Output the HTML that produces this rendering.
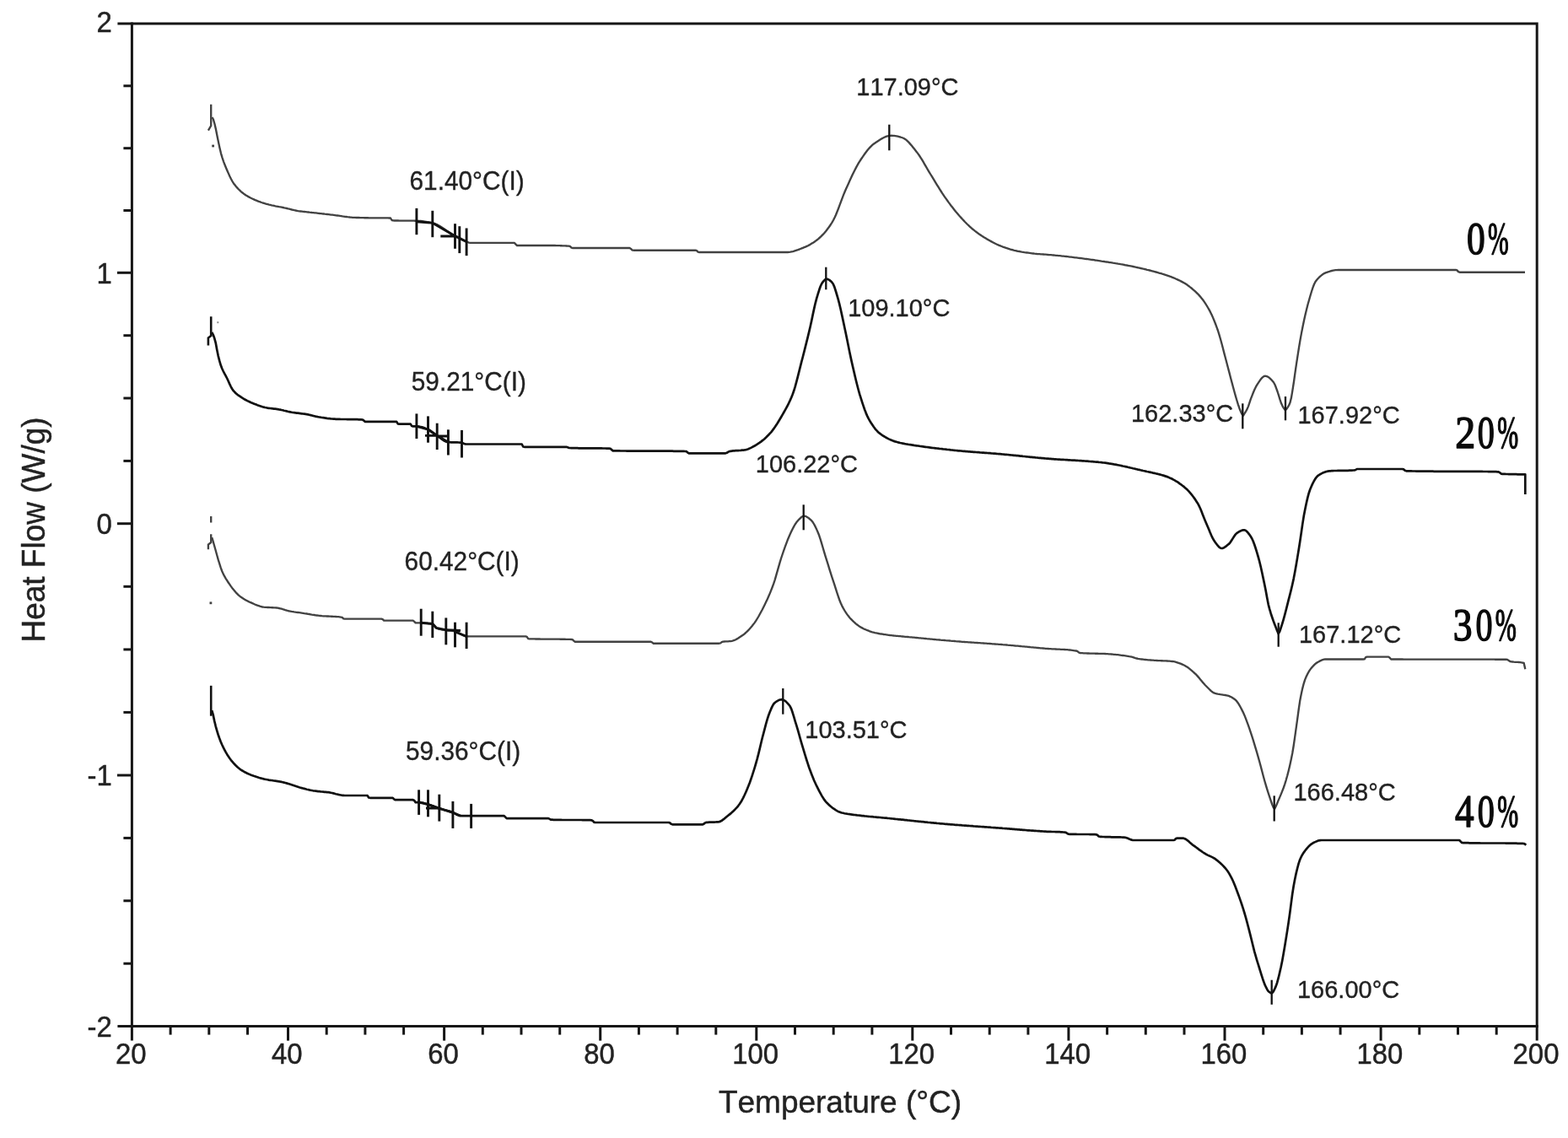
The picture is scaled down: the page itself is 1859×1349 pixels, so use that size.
<!DOCTYPE html>
<html><head><meta charset="utf-8"><title>DSC Heat Flow vs Temperature</title>
<style>html,body{margin:0;padding:0;background:#fff}svg{display:block}text{font-kerning:none}</style></head>
<body>
<svg width="1859" height="1349" viewBox="0 0 1859 1349">
<rect width="1859" height="1349" fill="#fff"/>
<g stroke="#161616" stroke-width="3" fill="none" stroke-linecap="butt">
<path d="M139.4,28.0 H1822.2 V1233.6"/>
<path d="M156.4,26.5 V1233.6"/>
<path d="M139.4,1216.6 H1823.7"/>
<path d="M146.4,101.8 H156.4"/>
<path d="M146.4,175.7 H156.4"/>
<path d="M146.4,249.5 H156.4"/>
<path d="M138.9,323.3 H156.4"/>
<path d="M146.4,397.7 H156.4"/>
<path d="M146.4,472.0 H156.4"/>
<path d="M146.4,546.4 H156.4"/>
<path d="M138.9,620.7 H156.4"/>
<path d="M146.4,695.3 H156.4"/>
<path d="M146.4,769.9 H156.4"/>
<path d="M146.4,844.4 H156.4"/>
<path d="M138.9,919.0 H156.4"/>
<path d="M146.4,993.4 H156.4"/>
<path d="M146.4,1067.8 H156.4"/>
<path d="M146.4,1142.2 H156.4"/>
<path d="M202.1,1216.6 V1226.6"/>
<path d="M247.8,1216.6 V1226.6"/>
<path d="M293.5,1216.6 V1226.6"/>
<path d="M341.5,1216.6 V1233.6"/>
<path d="M387.2,1216.6 V1226.6"/>
<path d="M432.9,1216.6 V1226.6"/>
<path d="M478.6,1216.6 V1226.6"/>
<path d="M526.6,1216.6 V1233.6"/>
<path d="M572.3,1216.6 V1226.6"/>
<path d="M618.0,1216.6 V1226.6"/>
<path d="M663.7,1216.6 V1226.6"/>
<path d="M711.7,1216.6 V1233.6"/>
<path d="M757.4,1216.6 V1226.6"/>
<path d="M803.1,1216.6 V1226.6"/>
<path d="M848.8,1216.6 V1226.6"/>
<path d="M896.8,1216.6 V1233.6"/>
<path d="M942.5,1216.6 V1226.6"/>
<path d="M988.2,1216.6 V1226.6"/>
<path d="M1033.9,1216.6 V1226.6"/>
<path d="M1081.8,1216.6 V1233.6"/>
<path d="M1127.5,1216.6 V1226.6"/>
<path d="M1173.2,1216.6 V1226.6"/>
<path d="M1218.9,1216.6 V1226.6"/>
<path d="M1266.9,1216.6 V1233.6"/>
<path d="M1312.6,1216.6 V1226.6"/>
<path d="M1358.3,1216.6 V1226.6"/>
<path d="M1404.0,1216.6 V1226.6"/>
<path d="M1452.0,1216.6 V1233.6"/>
<path d="M1497.7,1216.6 V1226.6"/>
<path d="M1543.4,1216.6 V1226.6"/>
<path d="M1589.1,1216.6 V1226.6"/>
<path d="M1637.1,1216.6 V1233.6"/>
<path d="M1682.8,1216.6 V1226.6"/>
<path d="M1728.5,1216.6 V1226.6"/>
<path d="M1774.2,1216.6 V1226.6"/>
</g>
<g font-family="'Liberation Sans', sans-serif" font-size="34.4" fill="#222" stroke="#222" stroke-width="0.45">
<text transform="translate(155.2,1260.9) scale(0.955,1)" text-anchor="middle">20</text>
<text transform="translate(340.3,1260.9) scale(0.955,1)" text-anchor="middle">40</text>
<text transform="translate(525.4,1260.9) scale(0.955,1)" text-anchor="middle">60</text>
<text transform="translate(710.5,1260.9) scale(0.955,1)" text-anchor="middle">80</text>
<text transform="translate(895.6,1260.9) scale(0.955,1)" text-anchor="middle">100</text>
<text transform="translate(1080.6,1260.9) scale(0.955,1)" text-anchor="middle">120</text>
<text transform="translate(1265.7,1260.9) scale(0.955,1)" text-anchor="middle">140</text>
<text transform="translate(1450.8,1260.9) scale(0.955,1)" text-anchor="middle">160</text>
<text transform="translate(1635.9,1260.9) scale(0.955,1)" text-anchor="middle">180</text>
<text transform="translate(1821.0,1260.9) scale(0.955,1)" text-anchor="middle">200</text>
<text transform="translate(132.8,38.0) scale(0.955,1)" text-anchor="end">2</text>
<text transform="translate(132.8,335.6) scale(0.955,1)" text-anchor="end">1</text>
<text transform="translate(132.8,633.0) scale(0.955,1)" text-anchor="end">0</text>
<text transform="translate(132.8,931.3) scale(0.955,1)" text-anchor="end">-1</text>
<text transform="translate(132.8,1228.9) scale(0.955,1)" text-anchor="end">-2</text>
</g>
<g font-family="'Liberation Sans', sans-serif" font-size="37" fill="#222" stroke="#222" stroke-width="0.45">
<text x="996" y="1318.6" text-anchor="middle">Temperature (°C)</text>
<text transform="translate(52.8,628) rotate(-90) scale(1,1.05)" text-anchor="middle">Heat Flow (W/g)</text>
</g>
<path d="M251.5,139.0 L253.0,141.8 L254.5,147.0 L256.0,153.5 L257.5,161.3 L259.0,168.6 L260.5,175.5 L262.0,181.8 L263.5,186.8 L265.0,191.3 L266.5,195.3 L268.0,199.0 L269.5,202.5 L271.0,205.9 L272.5,209.2 L274.0,212.3 L275.5,215.0 L277.0,217.4 L278.5,219.3 L280.0,221.2 L281.5,222.9 L283.0,224.5 L284.5,225.9 L286.0,227.3 L287.5,228.5 L289.0,229.7 L290.5,230.7 L292.0,231.7 L293.5,232.6 L295.0,233.4 L296.5,234.3 L298.0,235.0 L299.5,235.7 L301.0,236.4 L302.5,237.1 L304.0,237.7 L305.5,238.3 L307.0,238.9 L308.5,239.4 L310.0,240.0 L311.5,240.5 L313.0,240.9 L314.5,241.4 L316.0,241.8 L317.5,242.2 L319.0,242.6 L320.5,242.9 L322.0,243.3 L323.5,243.6 L325.0,243.9 L326.5,244.3 L328.0,244.6 L329.5,244.9 L331.0,245.2 L332.5,245.4 L334.0,245.7 L335.5,246.0 L337.0,246.4 L338.5,246.7 L340.0,247.0 L341.5,247.4 L343.0,247.7 L344.5,248.1 L346.0,248.5 L347.5,248.8 L349.0,249.2 L350.5,249.5 L352.0,249.8 L353.5,250.1 L355.0,250.3 L356.5,250.5 L358.0,250.7 L359.5,250.9 L361.0,251.0 L362.5,251.2 L364.0,251.4 L365.5,251.5 L367.0,251.7 L368.5,251.8 L370.0,252.0 L371.5,252.1 L373.0,252.3 L374.5,252.4 L376.0,252.6 L377.5,252.8 L379.0,253.0 L380.5,253.1 L382.0,253.3 L383.5,253.5 L385.0,253.7 L386.5,253.8 L388.0,254.0 L389.5,254.2 L391.0,254.4 L392.5,254.6 L394.0,254.7 L395.5,254.9 L397.0,255.1 L398.5,255.3 L400.0,255.5 L401.5,255.7 L403.0,255.9 L404.5,256.1 L406.0,256.4 L407.5,256.6 L409.0,256.8 L410.5,257.0 L412.0,257.2 L413.5,257.3 L415.0,257.5 L416.5,257.6 L418.0,257.8 L419.5,257.8 L421.0,257.9 L422.5,258.0 L424.0,258.0 L425.5,258.0 L427.0,258.1 L428.5,258.1 L430.0,258.1 L431.5,258.2 L433.0,258.2 L434.5,258.2 L436.0,258.2 L437.5,258.3 L439.0,258.3 L440.5,258.3 L442.0,258.3 L443.5,258.3 L445.0,258.3 L446.5,258.3 L448.0,258.4 L449.5,258.4 L451.0,258.4 L452.5,258.4 L454.0,258.4 L455.5,258.4 L457.0,258.4 L458.5,258.4 L460.0,258.4 L461.5,258.5 L463.0,258.5 L464.5,261.0 L466.0,261.4 L467.5,261.5 L469.0,261.5 L470.5,261.5 L472.0,261.5 L473.5,261.6 L475.0,261.6 L476.5,261.6 L478.0,261.6 L479.5,261.6 L481.0,261.6 L482.5,261.6 L484.0,261.6 L485.5,261.6 L487.0,261.6 L488.5,261.6 L490.0,261.6 L491.5,261.7 L493.0,261.7 L494.5,261.7 L496.0,261.8 L497.5,261.9 L499.0,262.0 L500.5,262.2 L502.0,262.4 L503.5,262.6 L505.0,262.8 L506.5,263.1 L508.0,263.3 L509.5,263.6 L511.0,263.9 L512.5,264.2 L514.0,264.6 L515.5,265.1 L517.0,265.7 L518.5,266.4 L520.0,267.2 L521.5,268.0 L523.0,268.9 L524.5,269.9 L526.0,270.9 L527.5,272.0 L529.0,273.0 L530.5,274.1 L532.0,275.1 L533.5,276.1 L535.0,277.1 L536.5,278.0 L538.0,278.9 L539.5,279.7 L541.0,280.5 L542.5,281.4 L544.0,282.2 L545.5,283.0 L547.0,283.8 L548.5,284.5 L550.0,285.2 L551.5,285.9 L553.0,286.5 L554.5,287.0 L556.0,287.6 L557.5,287.9 L559.0,287.9 L560.5,287.9 L562.0,287.9 L563.5,287.9 L565.0,287.9 L566.5,287.9 L568.0,287.9 L569.5,287.9 L571.0,287.9 L572.5,287.9 L574.0,287.9 L575.5,287.9 L577.0,287.9 L578.5,287.9 L580.0,287.9 L581.5,287.9 L583.0,287.9 L584.5,287.9 L586.0,287.9 L587.5,287.9 L589.0,287.9 L590.5,287.9 L592.0,287.9 L593.5,287.9 L595.0,287.9 L596.5,287.9 L598.0,287.9 L599.5,287.9 L601.0,287.9 L602.5,287.9 L604.0,287.9 L605.5,287.9 L607.0,287.9 L608.5,287.9 L610.0,287.9 L611.5,289.7 L613.0,291.0 L614.5,291.0 L616.0,291.0 L617.5,291.0 L619.0,291.0 L620.5,291.0 L622.0,291.0 L623.5,291.0 L625.0,291.0 L626.5,291.0 L628.0,291.0 L629.5,291.0 L631.0,291.0 L632.5,291.0 L634.0,291.0 L635.5,291.0 L637.0,291.0 L638.5,291.0 L640.0,291.0 L641.5,291.0 L643.0,291.0 L644.5,291.0 L646.0,291.0 L647.5,291.0 L649.0,291.0 L650.5,291.0 L652.0,291.0 L653.5,291.0 L655.0,291.0 L656.5,291.0 L658.0,291.0 L659.5,291.1 L661.0,291.1 L662.5,291.1 L664.0,291.2 L665.5,291.2 L667.0,291.3 L668.5,291.3 L670.0,291.4 L671.5,291.5 L673.0,291.6 L674.5,291.7 L676.0,292.2 L677.5,293.7 L679.0,294.0 L680.5,294.0 L682.0,294.0 L683.5,294.0 L685.0,294.0 L686.5,294.0 L688.0,294.0 L689.5,294.0 L691.0,294.0 L692.5,294.0 L694.0,294.0 L695.5,294.0 L697.0,294.0 L698.5,294.0 L700.0,294.0 L701.5,294.0 L703.0,294.0 L704.5,294.0 L706.0,294.0 L707.5,294.0 L709.0,294.0 L710.5,294.0 L712.0,294.0 L713.5,294.0 L715.0,294.0 L716.5,294.0 L718.0,294.0 L719.5,294.0 L721.0,294.0 L722.5,294.0 L724.0,294.0 L725.5,294.0 L727.0,294.0 L728.5,294.0 L730.0,294.0 L731.5,294.0 L733.0,294.0 L734.5,294.0 L736.0,294.0 L737.5,294.0 L739.0,294.0 L740.5,294.0 L742.0,294.0 L743.5,294.0 L745.0,294.0 L746.5,294.0 L748.0,294.9 L749.5,296.5 L751.0,296.7 L752.5,296.7 L754.0,296.7 L755.5,296.7 L757.0,296.7 L758.5,296.7 L760.0,296.7 L761.5,296.7 L763.0,296.7 L764.5,296.7 L766.0,296.7 L767.5,296.7 L769.0,296.7 L770.5,296.7 L772.0,296.7 L773.5,296.7 L775.0,296.7 L776.5,296.7 L778.0,296.7 L779.5,296.7 L781.0,296.7 L782.5,296.7 L784.0,296.7 L785.5,296.7 L787.0,296.7 L788.5,296.7 L790.0,296.7 L791.5,296.7 L793.0,296.7 L794.5,296.7 L796.0,296.7 L797.5,296.7 L799.0,296.7 L800.5,296.7 L802.0,296.7 L803.5,296.7 L805.0,296.7 L806.5,296.7 L808.0,296.7 L809.5,296.7 L811.0,296.7 L812.5,296.7 L814.0,296.7 L815.5,296.7 L817.0,296.7 L818.5,296.7 L820.0,296.7 L821.5,296.7 L823.0,296.7 L824.5,296.7 L826.0,297.2 L827.5,298.7 L829.0,299.0 L830.5,299.0 L832.0,299.0 L833.5,299.0 L835.0,299.0 L836.5,299.0 L838.0,299.0 L839.5,299.0 L841.0,299.0 L842.5,299.0 L844.0,299.0 L845.5,299.0 L847.0,299.0 L848.5,299.0 L850.0,299.0 L851.5,299.0 L853.0,299.0 L854.5,299.0 L856.0,299.0 L857.5,299.0 L859.0,299.0 L860.5,299.0 L862.0,299.0 L863.5,299.0 L865.0,299.0 L866.5,299.0 L868.0,299.0 L869.5,299.0 L871.0,299.0 L872.5,299.0 L874.0,299.0 L875.5,299.0 L877.0,299.0 L878.5,299.0 L880.0,299.0 L881.5,299.0 L883.0,299.0 L884.5,299.0 L886.0,299.0 L887.5,299.0 L889.0,299.0 L890.5,299.0 L892.0,299.0 L893.5,299.0 L895.0,299.0 L896.5,299.0 L898.0,299.0 L899.5,299.0 L901.0,299.0 L902.5,299.0 L904.0,299.0 L905.5,299.0 L907.0,299.0 L908.5,299.0 L910.0,299.0 L911.5,299.0 L913.0,299.0 L914.5,299.0 L916.0,299.0 L917.5,299.0 L919.0,299.0 L920.5,299.0 L922.0,299.0 L923.5,299.0 L925.0,299.0 L926.5,299.0 L928.0,299.0 L929.5,299.0 L931.0,299.0 L932.5,299.0 L934.0,299.0 L935.5,298.9 L937.0,298.7 L938.5,298.4 L940.0,298.1 L941.5,297.7 L943.0,297.2 L944.5,296.7 L946.0,296.2 L947.5,295.6 L949.0,295.0 L950.5,294.4 L952.0,293.8 L953.5,293.2 L955.0,292.6 L956.5,291.9 L958.0,291.2 L959.5,290.4 L961.0,289.5 L962.5,288.6 L964.0,287.7 L965.5,286.7 L967.0,285.6 L968.5,284.5 L970.0,283.3 L971.5,282.0 L973.0,280.7 L974.5,279.2 L976.0,277.7 L977.5,276.0 L979.0,274.2 L980.5,272.3 L982.0,270.3 L983.5,268.2 L985.0,266.0 L986.5,263.6 L988.0,261.0 L989.5,258.0 L991.0,254.7 L992.5,251.0 L994.0,247.2 L995.5,243.2 L997.0,239.1 L998.5,235.1 L1000.0,231.2 L1001.5,227.5 L1003.0,224.0 L1004.5,220.7 L1006.0,217.4 L1007.5,214.1 L1009.0,210.8 L1010.5,207.6 L1012.0,204.5 L1013.5,201.5 L1015.0,198.6 L1016.5,195.8 L1018.0,193.2 L1019.5,190.8 L1021.0,188.5 L1022.5,186.3 L1024.0,184.1 L1025.5,182.0 L1027.0,180.0 L1028.5,178.1 L1030.0,176.3 L1031.5,174.6 L1033.0,173.1 L1034.5,171.7 L1036.0,170.5 L1037.5,169.5 L1039.0,168.4 L1040.5,167.4 L1042.0,166.4 L1043.5,165.5 L1045.0,164.6 L1046.5,163.8 L1048.0,163.0 L1049.5,162.3 L1051.0,161.7 L1052.5,161.3 L1054.0,160.9 L1055.5,160.8 L1057.0,160.7 L1058.5,160.8 L1060.0,160.9 L1061.5,161.1 L1063.0,161.4 L1064.5,161.7 L1066.0,162.1 L1067.5,162.5 L1069.0,163.0 L1070.5,163.5 L1072.0,164.2 L1073.5,165.2 L1075.0,166.4 L1076.5,167.8 L1078.0,169.4 L1079.5,171.1 L1081.0,172.8 L1082.5,174.7 L1084.0,176.6 L1085.5,178.5 L1087.0,180.4 L1088.5,182.4 L1090.0,184.5 L1091.5,186.8 L1093.0,189.2 L1094.5,191.7 L1096.0,194.3 L1097.5,196.9 L1099.0,199.5 L1100.5,202.1 L1102.0,204.6 L1103.5,207.0 L1105.0,209.4 L1106.5,211.9 L1108.0,214.4 L1109.5,216.8 L1111.0,219.3 L1112.5,221.7 L1114.0,224.2 L1115.5,226.5 L1117.0,228.9 L1118.5,231.1 L1120.0,233.3 L1121.5,235.4 L1123.0,237.5 L1124.5,239.6 L1126.0,241.6 L1127.5,243.7 L1129.0,245.6 L1130.5,247.5 L1132.0,249.4 L1133.5,251.3 L1135.0,253.0 L1136.5,254.8 L1138.0,256.5 L1139.5,258.1 L1141.0,259.8 L1142.5,261.4 L1144.0,263.0 L1145.5,264.5 L1147.0,266.0 L1148.5,267.4 L1150.0,268.8 L1151.5,270.2 L1153.0,271.5 L1154.5,272.7 L1156.0,273.9 L1157.5,275.0 L1159.0,276.1 L1160.5,277.2 L1162.0,278.2 L1163.5,279.3 L1165.0,280.2 L1166.5,281.2 L1168.0,282.1 L1169.5,283.0 L1171.0,283.9 L1172.5,284.7 L1174.0,285.6 L1175.5,286.4 L1177.0,287.2 L1178.5,288.0 L1180.0,288.8 L1181.5,289.5 L1183.0,290.2 L1184.5,290.8 L1186.0,291.4 L1187.5,292.0 L1189.0,292.6 L1190.5,293.1 L1192.0,293.6 L1193.5,294.1 L1195.0,294.6 L1196.5,295.1 L1198.0,295.6 L1199.5,296.0 L1201.0,296.4 L1202.5,296.8 L1204.0,297.1 L1205.5,297.5 L1207.0,297.8 L1208.5,298.0 L1210.0,298.3 L1211.5,298.6 L1213.0,298.8 L1214.5,299.1 L1216.0,299.3 L1217.5,299.5 L1219.0,299.7 L1220.5,299.9 L1222.0,300.1 L1223.5,300.3 L1225.0,300.5 L1226.5,300.7 L1228.0,300.8 L1229.5,301.0 L1231.0,301.1 L1232.5,301.2 L1234.0,301.3 L1235.5,301.4 L1237.0,301.5 L1238.5,301.6 L1240.0,301.7 L1241.5,301.8 L1243.0,302.0 L1244.5,302.1 L1246.0,302.2 L1247.5,302.4 L1249.0,302.5 L1250.5,302.6 L1252.0,302.8 L1253.5,302.9 L1255.0,303.1 L1256.5,303.2 L1258.0,303.4 L1259.5,303.6 L1261.0,303.7 L1262.5,303.9 L1264.0,304.0 L1265.5,304.2 L1267.0,304.4 L1268.5,304.6 L1270.0,304.7 L1271.5,304.9 L1273.0,305.1 L1274.5,305.3 L1276.0,305.4 L1277.5,305.6 L1279.0,305.8 L1280.5,306.0 L1282.0,306.2 L1283.5,306.4 L1285.0,306.6 L1286.5,306.8 L1288.0,307.0 L1289.5,307.2 L1291.0,307.4 L1292.5,307.6 L1294.0,307.8 L1295.5,308.0 L1297.0,308.2 L1298.5,308.5 L1300.0,308.7 L1301.5,308.9 L1303.0,309.1 L1304.5,309.3 L1306.0,309.6 L1307.5,309.8 L1309.0,310.0 L1310.5,310.3 L1312.0,310.5 L1313.5,310.7 L1315.0,311.0 L1316.5,311.2 L1318.0,311.4 L1319.5,311.7 L1321.0,311.9 L1322.5,312.2 L1324.0,312.4 L1325.5,312.7 L1327.0,312.9 L1328.5,313.2 L1330.0,313.4 L1331.5,313.7 L1333.0,314.0 L1334.5,314.3 L1336.0,314.5 L1337.5,314.8 L1339.0,315.1 L1340.5,315.4 L1342.0,315.7 L1343.5,316.0 L1345.0,316.3 L1346.5,316.7 L1348.0,317.0 L1349.5,317.3 L1351.0,317.6 L1352.5,318.0 L1354.0,318.3 L1355.5,318.7 L1357.0,319.0 L1358.5,319.4 L1360.0,319.8 L1361.5,320.1 L1363.0,320.5 L1364.5,320.9 L1366.0,321.3 L1367.5,321.7 L1369.0,322.1 L1370.5,322.5 L1372.0,322.9 L1373.5,323.4 L1375.0,323.8 L1376.5,324.2 L1378.0,324.7 L1379.5,325.1 L1381.0,325.6 L1382.5,326.1 L1384.0,326.6 L1385.5,327.1 L1387.0,327.7 L1388.5,328.2 L1390.0,328.8 L1391.5,329.4 L1393.0,330.0 L1394.5,330.7 L1396.0,331.4 L1397.5,332.1 L1399.0,332.8 L1400.5,333.6 L1402.0,334.4 L1403.5,335.2 L1405.0,336.1 L1406.5,337.1 L1408.0,338.1 L1409.5,339.2 L1411.0,340.4 L1412.5,341.5 L1414.0,342.8 L1415.5,344.1 L1417.0,345.4 L1418.5,346.8 L1420.0,348.3 L1421.5,349.9 L1423.0,351.6 L1424.5,353.4 L1426.0,355.3 L1427.5,357.4 L1429.0,359.6 L1430.5,362.0 L1432.0,364.5 L1433.5,367.1 L1435.0,369.9 L1436.5,373.0 L1438.0,376.4 L1439.5,380.0 L1441.0,383.8 L1442.5,387.8 L1444.0,392.0 L1445.5,396.8 L1447.0,402.0 L1448.5,407.5 L1450.0,413.2 L1451.5,419.1 L1453.0,424.8 L1454.5,430.5 L1456.0,436.2 L1457.5,441.9 L1459.0,447.7 L1460.5,453.4 L1462.0,459.0 L1463.5,464.5 L1465.0,469.9 L1466.5,475.0 L1468.0,479.8 L1469.5,484.2 L1471.0,487.9 L1472.5,491.0 L1474.0,492.7 L1475.5,490.2 L1477.0,487.8 L1478.5,485.1 L1480.0,481.6 L1481.5,477.2 L1483.0,472.7 L1484.5,468.8 L1486.0,465.0 L1487.5,461.5 L1489.0,458.4 L1490.5,455.9 L1492.0,453.6 L1493.5,451.4 L1495.0,449.3 L1496.5,447.6 L1498.0,446.4 L1499.5,445.7 L1501.0,445.8 L1502.5,446.3 L1504.0,447.2 L1505.5,448.4 L1507.0,449.8 L1508.5,451.5 L1510.0,453.3 L1511.5,456.0 L1513.0,459.8 L1514.5,464.0 L1516.0,468.6 L1517.5,473.7 L1519.0,478.1 L1520.5,481.3 L1522.0,483.8 L1523.5,485.9 L1525.0,485.2 L1526.5,483.1 L1528.0,480.7 L1529.5,477.3 L1531.0,471.1 L1532.5,462.1 L1534.0,452.5 L1535.5,441.6 L1537.0,431.3 L1538.5,421.6 L1540.0,412.1 L1541.5,403.1 L1543.0,394.9 L1544.5,387.3 L1546.0,380.1 L1547.5,373.2 L1549.0,366.9 L1550.5,361.0 L1552.0,355.7 L1553.5,350.5 L1555.0,345.5 L1556.5,340.9 L1558.0,337.0 L1559.5,334.0 L1561.0,332.0 L1562.5,330.3 L1564.0,328.7 L1565.5,327.3 L1567.0,326.1 L1568.5,325.0 L1570.0,324.1 L1571.5,323.4 L1573.0,322.8 L1574.5,322.3 L1576.0,321.9 L1577.5,321.4 L1579.0,321.0 L1580.5,320.7 L1582.0,320.4 L1583.5,320.2 L1585.0,320.1 L1586.5,320.0 L1588.0,320.0 L1589.5,320.0 L1591.0,320.0 L1592.5,320.0 L1594.0,320.0 L1595.5,320.0 L1597.0,320.0 L1598.5,320.0 L1600.0,320.0 L1601.5,320.0 L1603.0,320.0 L1604.5,320.0 L1606.0,320.0 L1607.5,320.0 L1609.0,320.0 L1610.5,320.0 L1612.0,320.0 L1613.5,320.0 L1615.0,320.0 L1616.5,320.0 L1618.0,320.0 L1619.5,320.0 L1621.0,320.0 L1622.5,320.0 L1624.0,320.0 L1625.5,320.0 L1627.0,320.0 L1628.5,320.0 L1630.0,320.0 L1631.5,320.0 L1633.0,320.0 L1634.5,320.0 L1636.0,320.0 L1637.5,320.0 L1639.0,320.0 L1640.5,320.0 L1642.0,320.0 L1643.5,320.0 L1645.0,320.0 L1646.5,320.0 L1648.0,320.0 L1649.5,320.0 L1651.0,320.0 L1652.5,320.0 L1654.0,320.0 L1655.5,320.0 L1657.0,320.0 L1658.5,320.0 L1660.0,320.0 L1661.5,320.0 L1663.0,320.0 L1664.5,320.0 L1666.0,320.0 L1667.5,320.0 L1669.0,320.0 L1670.5,320.0 L1672.0,320.0 L1673.5,320.0 L1675.0,320.0 L1676.5,320.0 L1678.0,320.0 L1679.5,320.0 L1681.0,320.0 L1682.5,320.0 L1684.0,320.0 L1685.5,320.0 L1687.0,320.0 L1688.5,320.0 L1690.0,320.0 L1691.5,320.0 L1693.0,320.0 L1694.5,320.0 L1696.0,320.0 L1697.5,320.0 L1699.0,320.0 L1700.5,320.0 L1702.0,320.0 L1703.5,320.0 L1705.0,320.0 L1706.5,320.0 L1708.0,320.0 L1709.5,320.0 L1711.0,320.0 L1712.5,320.0 L1714.0,320.0 L1715.5,320.0 L1717.0,320.0 L1718.5,320.0 L1720.0,320.0 L1721.5,320.0 L1723.0,320.0 L1724.5,320.0 L1726.0,320.0 L1727.5,320.4 L1729.0,322.1 L1730.5,322.7 L1732.0,322.7 L1733.5,322.7 L1735.0,322.7 L1736.5,322.7 L1738.0,322.7 L1739.5,322.7 L1741.0,322.7 L1742.5,322.7 L1744.0,322.7 L1745.5,322.7 L1747.0,322.7 L1748.5,322.7 L1750.0,322.7 L1751.5,322.7 L1753.0,322.7 L1754.5,322.7 L1756.0,322.7 L1757.5,322.7 L1759.0,322.7 L1760.5,322.7 L1762.0,322.7 L1763.5,322.7 L1765.0,322.7 L1766.5,322.7 L1768.0,322.7 L1769.5,322.7 L1771.0,322.7 L1772.5,322.7 L1774.0,322.7 L1775.5,322.7 L1777.0,322.7 L1778.5,322.7 L1780.0,322.7 L1781.5,322.7 L1783.0,322.7 L1784.5,322.7 L1786.0,322.7 L1787.5,322.7 L1789.0,322.7 L1790.5,322.7 L1792.0,322.7 L1793.5,322.7 L1795.0,322.7 L1796.5,322.7 L1798.0,322.7 L1799.5,322.7 L1801.0,322.7 L1802.5,322.7 L1804.0,322.7 L1805.5,322.7 L1807.0,322.7 L1808.0,322.7" fill="none" stroke="#424242" stroke-width="2.35" stroke-linejoin="round"/>
<path d="M251.2,394.0 L252.7,396.8 L254.2,400.8 L255.7,406.3 L257.2,414.5 L258.7,421.8 L260.2,427.7 L261.7,432.8 L263.2,436.8 L264.7,440.0 L266.2,442.9 L267.7,445.6 L269.2,448.5 L270.7,451.7 L272.2,455.1 L273.7,458.3 L275.2,461.0 L276.7,463.1 L278.2,464.7 L279.7,466.2 L281.2,467.5 L282.7,468.7 L284.2,469.7 L285.7,470.7 L287.2,471.7 L288.7,472.6 L290.2,473.5 L291.7,474.3 L293.2,475.1 L294.7,475.8 L296.2,476.5 L297.7,477.2 L299.2,477.8 L300.7,478.4 L302.2,479.0 L303.7,479.6 L305.2,480.2 L306.7,480.7 L308.2,481.2 L309.7,481.7 L311.2,482.2 L312.7,482.6 L314.2,483.0 L315.7,483.3 L317.2,483.6 L318.7,483.8 L320.2,484.0 L321.7,484.2 L323.2,484.4 L324.7,484.6 L326.2,484.7 L327.7,484.9 L329.2,485.1 L330.7,485.4 L332.2,485.6 L333.7,486.0 L335.2,486.3 L336.7,486.7 L338.2,487.0 L339.7,487.4 L341.2,487.8 L342.7,488.1 L344.2,488.4 L345.7,488.7 L347.2,489.0 L348.7,489.2 L350.2,489.4 L351.7,489.6 L353.2,489.7 L354.7,489.9 L356.2,490.1 L357.7,490.3 L359.2,490.5 L360.7,490.7 L362.2,490.9 L363.7,491.1 L365.2,491.4 L366.7,491.7 L368.2,492.1 L369.7,492.5 L371.2,492.9 L372.7,493.2 L374.2,493.6 L375.7,493.9 L377.2,494.2 L378.7,494.5 L380.2,494.7 L381.7,495.0 L383.2,495.2 L384.7,495.4 L386.2,495.6 L387.7,495.9 L389.2,496.1 L390.7,496.2 L392.2,496.4 L393.7,496.5 L395.2,496.7 L396.7,496.7 L398.2,496.8 L399.7,496.9 L401.2,496.9 L402.7,496.9 L404.2,497.0 L405.7,497.0 L407.2,497.0 L408.7,497.0 L410.2,497.0 L411.7,497.1 L413.2,497.1 L414.7,497.1 L416.2,497.1 L417.7,497.1 L419.2,497.1 L420.7,497.2 L422.2,497.2 L423.7,497.2 L425.2,497.3 L426.7,497.3 L428.2,497.4 L429.7,497.5 L431.2,498.4 L432.7,499.8 L434.2,499.9 L435.7,499.9 L437.2,499.9 L438.7,499.9 L440.2,499.9 L441.7,499.9 L443.2,499.9 L444.7,499.9 L446.2,499.9 L447.7,499.9 L449.2,499.9 L450.7,499.9 L452.2,499.9 L453.7,499.9 L455.2,499.9 L456.7,499.9 L458.2,499.9 L459.7,499.9 L461.2,499.9 L462.7,499.9 L464.2,499.9 L465.7,499.9 L467.2,499.9 L468.7,499.9 L470.2,499.9 L471.7,502.4 L473.2,502.6 L474.7,502.6 L476.2,502.6 L477.7,502.6 L479.2,502.6 L480.7,502.6 L482.2,502.6 L483.7,502.6 L485.2,502.6 L486.7,502.6 L488.2,505.0 L489.7,505.4 L491.2,505.4 L492.7,505.4 L494.2,505.4 L495.7,505.5 L497.2,505.7 L498.7,506.0 L500.2,506.4 L501.7,506.9 L503.2,507.4 L504.7,508.0 L506.2,508.5 L507.7,509.1 L509.2,509.9 L510.7,510.9 L512.2,512.0 L513.7,513.1 L515.2,514.3 L516.7,515.4 L518.2,516.4 L519.7,517.4 L521.2,518.5 L522.7,519.7 L524.2,520.8 L525.7,521.8 L527.2,522.8 L528.7,523.5 L530.2,524.0 L531.7,524.1 L533.2,524.2 L534.7,524.3 L536.2,524.3 L537.7,524.4 L539.2,524.4 L540.7,524.4 L542.2,524.4 L543.7,524.5 L545.2,524.6 L546.7,524.7 L548.2,525.0 L549.7,525.7 L551.2,526.4 L552.7,526.5 L554.2,526.5 L555.7,526.5 L557.2,526.5 L558.7,526.5 L560.2,526.5 L561.7,526.5 L563.2,526.5 L564.7,526.5 L566.2,526.5 L567.7,526.5 L569.2,526.5 L570.7,526.5 L572.2,526.5 L573.7,526.5 L575.2,526.5 L576.7,526.5 L578.2,526.5 L579.7,526.5 L581.2,526.5 L582.7,526.5 L584.2,526.5 L585.7,526.5 L587.2,526.5 L588.7,526.5 L590.2,526.5 L591.7,526.5 L593.2,526.5 L594.7,526.5 L596.2,526.5 L597.7,526.5 L599.2,526.5 L600.7,526.5 L602.2,526.5 L603.7,526.5 L605.2,526.5 L606.7,526.5 L608.2,526.5 L609.7,526.5 L611.2,526.5 L612.7,526.5 L614.2,526.5 L615.7,526.5 L617.2,526.5 L618.7,526.5 L620.2,529.5 L621.7,529.8 L623.2,529.8 L624.7,529.8 L626.2,529.8 L627.7,529.8 L629.2,529.8 L630.7,529.8 L632.2,529.8 L633.7,529.8 L635.2,529.8 L636.7,529.8 L638.2,529.8 L639.7,529.8 L641.2,529.8 L642.7,529.8 L644.2,529.8 L645.7,529.8 L647.2,529.8 L648.7,529.8 L650.2,529.8 L651.7,529.8 L653.2,529.8 L654.7,529.8 L656.2,529.8 L657.7,529.8 L659.2,529.8 L660.7,529.8 L662.2,529.8 L663.7,529.8 L665.2,529.8 L666.7,529.8 L668.2,529.8 L669.7,529.8 L671.2,529.8 L672.7,530.1 L674.2,530.8 L675.7,531.0 L677.2,531.1 L678.7,531.1 L680.2,531.2 L681.7,531.2 L683.2,531.2 L684.7,531.2 L686.2,531.3 L687.7,531.3 L689.2,531.3 L690.7,531.3 L692.2,531.3 L693.7,531.3 L695.2,531.3 L696.7,531.3 L698.2,531.3 L699.7,531.3 L701.2,531.3 L702.7,531.4 L704.2,531.4 L705.7,531.4 L707.2,531.4 L708.7,531.4 L710.2,531.4 L711.7,531.4 L713.2,531.4 L714.7,531.5 L716.2,531.5 L717.7,531.5 L719.2,531.6 L720.7,531.6 L722.2,531.7 L723.7,531.8 L725.2,533.2 L726.7,534.3 L728.2,534.3 L729.7,534.4 L731.2,534.4 L732.7,534.4 L734.2,534.4 L735.7,534.5 L737.2,534.5 L738.7,534.5 L740.2,534.5 L741.7,534.5 L743.2,534.6 L744.7,534.6 L746.2,534.6 L747.7,534.6 L749.2,534.6 L750.7,534.6 L752.2,534.6 L753.7,534.6 L755.2,534.6 L756.7,534.6 L758.2,534.6 L759.7,534.6 L761.2,534.6 L762.7,534.6 L764.2,534.6 L765.7,534.6 L767.2,534.6 L768.7,534.6 L770.2,534.7 L771.7,534.7 L773.2,534.7 L774.7,534.7 L776.2,534.7 L777.7,534.7 L779.2,534.7 L780.7,534.7 L782.2,534.7 L783.7,534.7 L785.2,534.7 L786.7,534.7 L788.2,534.7 L789.7,534.7 L791.2,534.7 L792.7,534.7 L794.2,534.7 L795.7,534.7 L797.2,534.7 L798.7,534.8 L800.2,534.8 L801.7,534.8 L803.2,534.8 L804.7,534.8 L806.2,534.9 L807.7,534.9 L809.2,534.9 L810.7,534.9 L812.2,535.0 L813.7,535.1 L815.2,536.4 L816.7,537.3 L818.2,537.3 L819.7,537.3 L821.2,537.3 L822.7,537.3 L824.2,537.3 L825.7,537.3 L827.2,537.3 L828.7,537.3 L830.2,537.3 L831.7,537.3 L833.2,537.3 L834.7,537.3 L836.2,537.3 L837.7,537.3 L839.2,537.3 L840.7,537.3 L842.2,537.3 L843.7,537.3 L845.2,537.3 L846.7,537.3 L848.2,537.3 L849.7,537.3 L851.2,537.3 L852.7,537.3 L854.2,537.3 L855.7,537.3 L857.2,537.3 L858.7,537.3 L860.2,537.3 L861.7,536.8 L863.2,535.8 L864.7,535.1 L866.2,534.8 L867.7,534.6 L869.2,534.4 L870.7,534.3 L872.2,534.2 L873.7,534.1 L875.2,534.1 L876.7,534.0 L878.2,533.9 L879.7,533.7 L881.2,533.6 L882.7,533.4 L884.2,533.1 L885.7,532.7 L887.2,532.2 L888.7,531.6 L890.2,530.9 L891.7,530.1 L893.2,529.3 L894.7,528.5 L896.2,527.6 L897.7,526.7 L899.2,525.7 L900.7,524.7 L902.2,523.6 L903.7,522.4 L905.2,521.2 L906.7,519.9 L908.2,518.5 L909.7,517.0 L911.2,515.5 L912.7,513.9 L914.2,512.3 L915.7,510.4 L917.2,508.4 L918.7,506.3 L920.2,504.0 L921.7,501.7 L923.2,499.2 L924.7,496.7 L926.2,494.2 L927.7,491.6 L929.2,489.0 L930.7,486.4 L932.2,483.7 L933.7,480.8 L935.2,477.8 L936.7,474.6 L938.2,471.2 L939.7,467.5 L941.2,463.3 L942.7,458.4 L944.2,452.9 L945.7,447.1 L947.2,441.1 L948.7,435.1 L950.2,429.2 L951.7,423.5 L953.2,417.6 L954.7,411.7 L956.2,405.7 L957.7,399.6 L959.2,393.4 L960.7,387.0 L962.2,380.1 L963.7,372.9 L965.2,365.9 L966.7,359.3 L968.2,353.6 L969.7,348.6 L971.2,343.8 L972.7,339.5 L974.2,336.2 L975.7,334.1 L977.2,332.4 L978.7,331.1 L980.2,330.7 L981.7,331.1 L983.2,331.9 L984.7,333.1 L986.2,334.5 L987.7,336.5 L989.2,339.9 L990.7,344.5 L992.2,349.5 L993.7,354.7 L995.2,360.4 L996.7,366.8 L998.2,373.6 L999.7,380.6 L1001.2,387.7 L1002.7,394.7 L1004.2,402.0 L1005.7,409.5 L1007.2,416.9 L1008.7,424.1 L1010.2,430.9 L1011.7,437.4 L1013.2,443.9 L1014.7,450.2 L1016.2,456.3 L1017.7,462.0 L1019.2,467.4 L1020.7,472.2 L1022.2,476.9 L1023.7,481.4 L1025.2,485.7 L1026.7,489.6 L1028.2,493.1 L1029.7,496.2 L1031.2,498.8 L1032.7,501.3 L1034.2,503.6 L1035.7,505.8 L1037.2,507.8 L1038.7,509.6 L1040.2,511.2 L1041.7,512.7 L1043.2,513.9 L1044.7,515.0 L1046.2,516.1 L1047.7,517.0 L1049.2,517.9 L1050.7,518.8 L1052.2,519.6 L1053.7,520.4 L1055.2,521.1 L1056.7,521.7 L1058.2,522.3 L1059.7,522.9 L1061.2,523.4 L1062.7,523.8 L1064.2,524.2 L1065.7,524.6 L1067.2,525.0 L1068.7,525.3 L1070.2,525.6 L1071.7,525.9 L1073.2,526.2 L1074.7,526.5 L1076.2,526.7 L1077.7,527.0 L1079.2,527.2 L1080.7,527.4 L1082.2,527.6 L1083.7,527.9 L1085.2,528.1 L1086.7,528.3 L1088.2,528.5 L1089.7,528.7 L1091.2,529.0 L1092.7,529.2 L1094.2,529.4 L1095.7,529.6 L1097.2,529.8 L1098.7,530.0 L1100.2,530.2 L1101.7,530.4 L1103.2,530.6 L1104.7,530.8 L1106.2,531.0 L1107.7,531.1 L1109.2,531.3 L1110.7,531.5 L1112.2,531.7 L1113.7,531.9 L1115.2,532.0 L1116.7,532.2 L1118.2,532.4 L1119.7,532.5 L1121.2,532.7 L1122.7,532.9 L1124.2,533.0 L1125.7,533.2 L1127.2,533.4 L1128.7,533.5 L1130.2,533.7 L1131.7,533.8 L1133.2,534.0 L1134.7,534.1 L1136.2,534.3 L1137.7,534.4 L1139.2,534.5 L1140.7,534.7 L1142.2,534.8 L1143.7,534.9 L1145.2,535.1 L1146.7,535.2 L1148.2,535.3 L1149.7,535.4 L1151.2,535.6 L1152.7,535.7 L1154.2,535.8 L1155.7,535.9 L1157.2,536.0 L1158.7,536.1 L1160.2,536.2 L1161.7,536.4 L1163.2,536.5 L1164.7,536.6 L1166.2,536.7 L1167.7,536.8 L1169.2,536.9 L1170.7,537.0 L1172.2,537.1 L1173.7,537.2 L1175.2,537.4 L1176.7,537.5 L1178.2,537.6 L1179.7,537.7 L1181.2,537.8 L1182.7,538.0 L1184.2,538.1 L1185.7,538.2 L1187.2,538.3 L1188.7,538.5 L1190.2,538.6 L1191.7,538.8 L1193.2,538.9 L1194.7,539.0 L1196.2,539.2 L1197.7,539.3 L1199.2,539.5 L1200.7,539.6 L1202.2,539.8 L1203.7,539.9 L1205.2,540.1 L1206.7,540.2 L1208.2,540.4 L1209.7,540.6 L1211.2,540.7 L1212.7,540.9 L1214.2,541.0 L1215.7,541.2 L1217.2,541.3 L1218.7,541.5 L1220.2,541.6 L1221.7,541.8 L1223.2,541.9 L1224.7,542.1 L1226.2,542.2 L1227.7,542.4 L1229.2,542.5 L1230.7,542.7 L1232.2,542.8 L1233.7,542.9 L1235.2,543.1 L1236.7,543.2 L1238.2,543.3 L1239.7,543.5 L1241.2,543.6 L1242.7,543.7 L1244.2,543.8 L1245.7,543.9 L1247.2,544.1 L1248.7,544.2 L1250.2,544.3 L1251.7,544.4 L1253.2,544.5 L1254.7,544.6 L1256.2,544.7 L1257.7,544.8 L1259.2,544.8 L1260.7,544.9 L1262.2,545.0 L1263.7,545.1 L1265.2,545.2 L1266.7,545.3 L1268.2,545.4 L1269.7,545.5 L1271.2,545.6 L1272.7,545.7 L1274.2,545.7 L1275.7,545.8 L1277.2,545.9 L1278.7,546.0 L1280.2,546.1 L1281.7,546.2 L1283.2,546.3 L1284.7,546.4 L1286.2,546.5 L1287.7,546.6 L1289.2,546.7 L1290.7,546.8 L1292.2,547.0 L1293.7,547.1 L1295.2,547.2 L1296.7,547.3 L1298.2,547.5 L1299.7,547.6 L1301.2,547.7 L1302.7,547.9 L1304.2,548.0 L1305.7,548.2 L1307.2,548.4 L1308.7,548.5 L1310.2,548.7 L1311.7,548.9 L1313.2,549.1 L1314.7,549.4 L1316.2,549.6 L1317.7,549.8 L1319.2,550.1 L1320.7,550.4 L1322.2,550.6 L1323.7,550.9 L1325.2,551.2 L1326.7,551.5 L1328.2,551.8 L1329.7,552.1 L1331.2,552.5 L1332.7,552.8 L1334.2,553.1 L1335.7,553.4 L1337.2,553.8 L1338.7,554.1 L1340.2,554.5 L1341.7,554.8 L1343.2,555.2 L1344.7,555.5 L1346.2,555.9 L1347.7,556.2 L1349.2,556.6 L1350.7,556.9 L1352.2,557.3 L1353.7,557.6 L1355.2,558.0 L1356.7,558.3 L1358.2,558.6 L1359.7,559.0 L1361.2,559.3 L1362.7,559.6 L1364.2,559.9 L1365.7,560.2 L1367.2,560.6 L1368.7,560.9 L1370.2,561.3 L1371.7,561.6 L1373.2,562.0 L1374.7,562.4 L1376.2,562.8 L1377.7,563.2 L1379.2,563.6 L1380.7,564.1 L1382.2,564.6 L1383.7,565.1 L1385.2,565.7 L1386.7,566.4 L1388.2,567.0 L1389.7,567.8 L1391.2,568.6 L1392.7,569.4 L1394.2,570.3 L1395.7,571.2 L1397.2,572.2 L1398.7,573.3 L1400.2,574.3 L1401.7,575.5 L1403.2,576.6 L1404.7,577.9 L1406.2,579.2 L1407.7,580.6 L1409.2,582.2 L1410.7,583.9 L1412.2,585.6 L1413.7,587.5 L1415.2,589.5 L1416.7,591.6 L1418.2,593.9 L1419.7,596.2 L1421.2,598.9 L1422.7,602.0 L1424.2,605.6 L1425.7,609.4 L1427.2,613.2 L1428.7,616.9 L1430.2,620.5 L1431.7,624.0 L1433.2,627.6 L1434.7,631.3 L1436.2,634.7 L1437.7,637.9 L1439.2,640.5 L1440.7,642.7 L1442.2,644.7 L1443.7,646.7 L1445.2,648.4 L1446.7,649.5 L1448.2,650.0 L1449.7,649.8 L1451.2,649.2 L1452.7,648.2 L1454.2,647.1 L1455.7,645.8 L1457.2,644.6 L1458.7,642.8 L1460.2,640.5 L1461.7,638.1 L1463.2,635.7 L1464.7,633.6 L1466.2,632.1 L1467.7,631.1 L1469.2,630.2 L1470.7,629.4 L1472.2,628.8 L1473.7,628.4 L1475.2,628.3 L1476.7,628.8 L1478.2,630.0 L1479.7,631.6 L1481.2,633.6 L1482.7,635.8 L1484.2,638.2 L1485.7,641.5 L1487.2,645.5 L1488.7,650.0 L1490.2,654.9 L1491.7,660.0 L1493.2,665.5 L1494.7,671.8 L1496.2,678.5 L1497.7,685.6 L1499.2,692.8 L1500.7,700.3 L1502.2,708.6 L1503.7,716.3 L1505.2,722.2 L1506.7,727.2 L1508.2,731.7 L1509.7,736.0 L1511.2,739.9 L1512.7,743.9 L1514.2,747.8 L1515.7,751.1 L1517.2,748.5 L1518.7,744.0 L1520.2,739.4 L1521.7,734.3 L1523.2,728.9 L1524.7,723.1 L1526.2,717.2 L1527.7,711.2 L1529.2,705.4 L1530.7,699.4 L1532.2,693.0 L1533.7,686.1 L1535.2,678.2 L1536.7,669.8 L1538.2,660.9 L1539.7,651.8 L1541.2,642.3 L1542.7,632.0 L1544.2,621.6 L1545.7,612.1 L1547.2,604.2 L1548.7,597.0 L1550.2,590.4 L1551.7,584.7 L1553.2,580.2 L1554.7,576.7 L1556.2,573.4 L1557.7,570.5 L1559.2,567.9 L1560.7,565.8 L1562.2,564.1 L1563.7,563.1 L1565.2,562.2 L1566.7,561.4 L1568.2,560.6 L1569.7,560.0 L1571.2,559.4 L1572.7,559.0 L1574.2,558.6 L1575.7,558.4 L1577.2,558.3 L1578.7,558.2 L1580.2,558.1 L1581.7,558.0 L1583.2,558.0 L1584.7,558.0 L1586.2,557.9 L1587.7,557.9 L1589.2,557.9 L1590.7,557.9 L1592.2,557.9 L1593.7,557.9 L1595.2,557.8 L1596.7,557.8 L1598.2,557.8 L1599.7,557.7 L1601.2,557.7 L1602.7,557.6 L1604.2,557.5 L1605.7,557.4 L1607.2,557.0 L1608.7,556.0 L1610.2,556.0 L1611.7,556.0 L1613.2,556.0 L1614.7,556.0 L1616.2,556.0 L1617.7,556.0 L1619.2,556.0 L1620.7,556.0 L1622.2,556.0 L1623.7,556.0 L1625.2,556.0 L1626.7,556.0 L1628.2,556.0 L1629.7,556.0 L1631.2,556.0 L1632.7,556.0 L1634.2,556.0 L1635.7,556.0 L1637.2,556.0 L1638.7,556.0 L1640.2,556.0 L1641.7,556.0 L1643.2,556.0 L1644.7,556.0 L1646.2,556.0 L1647.7,556.0 L1649.2,556.0 L1650.7,556.0 L1652.2,556.0 L1653.7,556.0 L1655.2,556.0 L1656.7,556.0 L1658.2,556.0 L1659.7,556.0 L1661.2,556.0 L1662.7,556.0 L1664.2,556.4 L1665.7,557.8 L1667.2,558.3 L1668.7,558.3 L1670.2,558.4 L1671.7,558.4 L1673.2,558.4 L1674.7,558.5 L1676.2,558.5 L1677.7,558.5 L1679.2,558.6 L1680.7,558.6 L1682.2,558.6 L1683.7,558.6 L1685.2,558.6 L1686.7,558.7 L1688.2,558.7 L1689.7,558.7 L1691.2,558.7 L1692.7,558.7 L1694.2,558.7 L1695.7,558.7 L1697.2,558.7 L1698.7,558.7 L1700.2,558.8 L1701.7,558.8 L1703.2,558.8 L1704.7,558.8 L1706.2,558.8 L1707.7,558.8 L1709.2,558.8 L1710.7,558.8 L1712.2,558.8 L1713.7,558.8 L1715.2,558.8 L1716.7,558.8 L1718.2,558.8 L1719.7,558.8 L1721.2,558.8 L1722.7,558.8 L1724.2,558.8 L1725.7,558.8 L1727.2,558.8 L1728.7,558.8 L1730.2,558.8 L1731.7,558.8 L1733.2,558.8 L1734.7,558.8 L1736.2,558.8 L1737.7,558.8 L1739.2,558.8 L1740.7,558.8 L1742.2,558.8 L1743.7,558.8 L1745.2,558.9 L1746.7,558.9 L1748.2,558.9 L1749.7,558.9 L1751.2,558.9 L1752.7,558.9 L1754.2,558.9 L1755.7,558.9 L1757.2,558.9 L1758.7,559.0 L1760.2,559.0 L1761.7,559.0 L1763.2,559.0 L1764.7,559.1 L1766.2,559.1 L1767.7,559.1 L1769.2,559.1 L1770.7,559.2 L1772.2,559.2 L1773.7,559.2 L1775.2,559.3 L1776.7,559.3 L1778.2,560.3 L1779.7,561.6 L1781.2,561.8 L1782.7,561.8 L1784.2,561.9 L1785.7,562.0 L1787.2,562.0 L1788.7,562.1 L1790.2,562.1 L1791.7,562.1 L1793.2,562.2 L1794.7,562.2 L1796.2,562.2 L1797.7,562.2 L1799.2,562.3 L1800.7,562.3 L1802.2,562.3 L1803.7,562.3 L1805.2,562.3 L1806.7,562.3 L1808.2,562.3 L1808.3,562.3 L1808.3,586" fill="none" stroke="#111" stroke-width="2.7" stroke-linejoin="round"/>
<path d="M251.2,637.0 L252.7,641.9 L254.2,647.2 L255.7,652.5 L257.2,658.0 L258.7,663.4 L260.2,668.2 L261.7,672.9 L263.2,677.0 L264.7,680.4 L266.2,683.2 L267.7,685.8 L269.2,688.2 L270.7,690.5 L272.2,692.7 L273.7,694.9 L275.2,696.9 L276.7,698.8 L278.2,700.6 L279.7,702.3 L281.2,703.8 L282.7,705.3 L284.2,706.6 L285.7,707.8 L287.2,708.8 L288.7,709.8 L290.2,710.7 L291.7,711.6 L293.2,712.3 L294.7,713.1 L296.2,713.8 L297.7,714.4 L299.2,715.1 L300.7,715.8 L302.2,716.5 L303.7,717.1 L305.2,717.7 L306.7,718.2 L308.2,718.7 L309.7,719.1 L311.2,719.5 L312.7,719.7 L314.2,719.8 L315.7,719.9 L317.2,720.0 L318.7,720.0 L320.2,720.1 L321.7,720.2 L323.2,720.2 L324.7,720.3 L326.2,720.4 L327.7,720.5 L329.2,720.7 L330.7,721.0 L332.2,721.3 L333.7,721.7 L335.2,722.2 L336.7,722.6 L338.2,723.1 L339.7,723.5 L341.2,724.0 L342.7,724.3 L344.2,724.6 L345.7,724.9 L347.2,725.1 L348.7,725.4 L350.2,725.6 L351.7,725.8 L353.2,726.0 L354.7,726.2 L356.2,726.4 L357.7,726.6 L359.2,726.8 L360.7,727.1 L362.2,727.3 L363.7,727.5 L365.2,727.8 L366.7,728.0 L368.2,728.3 L369.7,728.6 L371.2,728.8 L372.7,729.0 L374.2,729.3 L375.7,729.5 L377.2,729.7 L378.7,729.9 L380.2,730.0 L381.7,730.2 L383.2,730.3 L384.7,730.4 L386.2,730.4 L387.7,730.5 L389.2,730.5 L390.7,730.6 L392.2,730.7 L393.7,730.7 L395.2,730.8 L396.7,730.9 L398.2,731.0 L399.7,731.1 L401.2,731.2 L402.7,731.4 L404.2,731.6 L405.7,731.8 L407.2,733.3 L408.7,733.6 L410.2,733.6 L411.7,733.6 L413.2,733.6 L414.7,733.6 L416.2,733.6 L417.7,733.6 L419.2,733.6 L420.7,733.6 L422.2,733.6 L423.7,733.6 L425.2,733.6 L426.7,733.6 L428.2,733.6 L429.7,733.6 L431.2,733.6 L432.7,733.6 L434.2,733.6 L435.7,733.6 L437.2,733.6 L438.7,733.6 L440.2,733.6 L441.7,733.6 L443.2,733.6 L444.7,733.6 L446.2,733.6 L447.7,733.6 L449.2,733.6 L450.7,733.6 L452.2,733.6 L453.7,734.1 L455.2,735.6 L456.7,735.6 L458.2,735.6 L459.7,735.6 L461.2,735.6 L462.7,735.6 L464.2,735.6 L465.7,735.6 L467.2,735.6 L468.7,735.6 L470.2,735.6 L471.7,735.6 L473.2,735.6 L474.7,735.6 L476.2,735.6 L477.7,735.6 L479.2,735.6 L480.7,735.6 L482.2,735.6 L483.7,735.6 L485.2,735.6 L486.7,735.6 L488.2,735.6 L489.7,735.6 L491.2,736.8 L492.7,738.3 L494.2,738.3 L495.7,738.3 L497.2,738.3 L498.7,738.3 L500.2,738.3 L501.7,738.4 L503.2,738.4 L504.7,738.6 L506.2,738.7 L507.7,739.0 L509.2,739.2 L510.7,739.5 L512.2,739.9 L513.7,740.5 L515.2,742.3 L516.7,744.2 L518.2,745.0 L519.7,745.5 L521.2,745.9 L522.7,746.2 L524.2,746.5 L525.7,746.7 L527.2,746.9 L528.7,747.1 L530.2,747.3 L531.7,747.5 L533.2,747.6 L534.7,747.7 L536.2,747.9 L537.7,748.0 L539.2,748.3 L540.7,748.6 L542.2,749.2 L543.7,750.0 L545.2,750.9 L546.7,751.8 L548.2,752.7 L549.7,753.5 L551.2,754.0 L552.7,754.3 L554.2,754.3 L555.7,754.3 L557.2,754.3 L558.7,754.3 L560.2,754.3 L561.7,754.3 L563.2,754.3 L564.7,754.3 L566.2,754.3 L567.7,754.3 L569.2,754.3 L570.7,754.3 L572.2,754.3 L573.7,754.3 L575.2,754.3 L576.7,754.3 L578.2,754.3 L579.7,754.3 L581.2,754.3 L582.7,754.3 L584.2,754.3 L585.7,754.3 L587.2,754.3 L588.7,754.3 L590.2,754.3 L591.7,754.3 L593.2,754.3 L594.7,754.3 L596.2,754.3 L597.7,754.3 L599.2,754.3 L600.7,754.3 L602.2,754.3 L603.7,754.3 L605.2,754.3 L606.7,754.3 L608.2,754.3 L609.7,754.3 L611.2,754.3 L612.7,754.3 L614.2,754.3 L615.7,754.3 L617.2,754.3 L618.7,754.3 L620.2,754.3 L621.7,754.3 L623.2,754.3 L624.7,754.8 L626.2,757.1 L627.7,757.3 L629.2,757.3 L630.7,757.4 L632.2,757.4 L633.7,757.4 L635.2,757.5 L636.7,757.5 L638.2,757.5 L639.7,757.5 L641.2,757.6 L642.7,757.6 L644.2,757.6 L645.7,757.6 L647.2,757.6 L648.7,757.6 L650.2,757.6 L651.7,757.6 L653.2,757.6 L654.7,757.6 L656.2,757.6 L657.7,757.6 L659.2,757.6 L660.7,757.6 L662.2,757.6 L663.7,757.7 L665.2,757.7 L666.7,757.7 L668.2,757.7 L669.7,757.7 L671.2,757.8 L672.7,757.8 L674.2,757.9 L675.7,757.9 L677.2,758.0 L678.7,758.1 L680.2,759.6 L681.7,760.7 L683.2,760.7 L684.7,760.7 L686.2,760.7 L687.7,760.7 L689.2,760.7 L690.7,760.7 L692.2,760.7 L693.7,760.7 L695.2,760.7 L696.7,760.7 L698.2,760.7 L699.7,760.7 L701.2,760.7 L702.7,760.7 L704.2,760.7 L705.7,760.7 L707.2,760.7 L708.7,760.7 L710.2,760.7 L711.7,760.7 L713.2,760.7 L714.7,760.7 L716.2,760.7 L717.7,760.7 L719.2,760.7 L720.7,760.7 L722.2,760.7 L723.7,760.7 L725.2,760.7 L726.7,760.7 L728.2,760.7 L729.7,760.7 L731.2,760.7 L732.7,760.7 L734.2,760.7 L735.7,760.7 L737.2,760.7 L738.7,760.7 L740.2,760.7 L741.7,760.7 L743.2,760.7 L744.7,760.7 L746.2,760.7 L747.7,760.7 L749.2,760.7 L750.7,760.7 L752.2,760.7 L753.7,760.7 L755.2,760.7 L756.7,760.7 L758.2,760.7 L759.7,760.7 L761.2,760.7 L762.7,760.7 L764.2,760.7 L765.7,760.7 L767.2,760.7 L768.7,760.7 L770.2,760.7 L771.7,760.7 L773.2,761.6 L774.7,762.7 L776.2,762.7 L777.7,762.7 L779.2,762.7 L780.7,762.7 L782.2,762.7 L783.7,762.7 L785.2,762.7 L786.7,762.7 L788.2,762.7 L789.7,762.7 L791.2,762.7 L792.7,762.7 L794.2,762.7 L795.7,762.7 L797.2,762.7 L798.7,762.7 L800.2,762.7 L801.7,762.7 L803.2,762.7 L804.7,762.7 L806.2,762.7 L807.7,762.7 L809.2,762.7 L810.7,762.7 L812.2,762.7 L813.7,762.7 L815.2,762.7 L816.7,762.7 L818.2,762.7 L819.7,762.7 L821.2,762.7 L822.7,762.7 L824.2,762.7 L825.7,762.7 L827.2,762.7 L828.7,762.7 L830.2,762.7 L831.7,762.7 L833.2,762.7 L834.7,762.7 L836.2,762.7 L837.7,762.7 L839.2,762.7 L840.7,762.7 L842.2,762.7 L843.7,762.7 L845.2,762.7 L846.7,762.7 L848.2,762.7 L849.7,762.7 L851.2,762.7 L852.7,762.7 L854.2,762.4 L855.7,761.2 L857.2,760.6 L858.7,760.5 L860.2,760.4 L861.7,760.3 L863.2,760.3 L864.7,760.2 L866.2,760.1 L867.7,759.8 L869.2,759.4 L870.7,758.9 L872.2,758.2 L873.7,757.4 L875.2,756.5 L876.7,755.5 L878.2,754.5 L879.7,753.5 L881.2,752.5 L882.7,751.3 L884.2,750.0 L885.7,748.6 L887.2,747.1 L888.7,745.5 L890.2,743.8 L891.7,742.0 L893.2,740.1 L894.7,738.1 L896.2,735.9 L897.7,733.5 L899.2,731.0 L900.7,728.3 L902.2,725.5 L903.7,722.7 L905.2,719.7 L906.7,716.7 L908.2,713.6 L909.7,710.4 L911.2,707.1 L912.7,703.6 L914.2,699.9 L915.7,696.0 L917.2,691.9 L918.7,687.3 L920.2,682.2 L921.7,676.9 L923.2,671.6 L924.7,666.4 L926.2,661.5 L927.7,657.0 L929.2,652.7 L930.7,648.4 L932.2,644.3 L933.7,640.3 L935.2,636.7 L936.7,633.3 L938.2,630.1 L939.7,627.0 L941.2,624.1 L942.7,621.5 L944.2,619.3 L945.7,617.5 L947.2,615.8 L948.7,614.3 L950.2,613.0 L951.7,612.1 L953.2,611.7 L954.7,611.9 L956.2,612.5 L957.7,613.4 L959.2,614.5 L960.7,615.8 L962.2,617.2 L963.7,619.1 L965.2,621.5 L966.7,624.4 L968.2,627.6 L969.7,631.0 L971.2,634.8 L972.7,639.3 L974.2,644.3 L975.7,649.5 L977.2,654.7 L978.7,659.6 L980.2,664.4 L981.7,669.2 L983.2,674.1 L984.7,678.9 L986.2,683.6 L987.7,688.2 L989.2,692.7 L990.7,697.4 L992.2,702.1 L993.7,706.7 L995.2,711.0 L996.7,714.8 L998.2,718.1 L999.7,720.9 L1001.2,723.5 L1002.7,725.9 L1004.2,728.1 L1005.7,730.1 L1007.2,732.0 L1008.7,733.7 L1010.2,735.2 L1011.7,736.6 L1013.2,738.0 L1014.7,739.3 L1016.2,740.5 L1017.7,741.6 L1019.2,742.7 L1020.7,743.6 L1022.2,744.4 L1023.7,745.2 L1025.2,745.9 L1026.7,746.5 L1028.2,747.2 L1029.7,747.7 L1031.2,748.3 L1032.7,748.8 L1034.2,749.3 L1035.7,749.7 L1037.2,750.1 L1038.7,750.4 L1040.2,750.7 L1041.7,751.0 L1043.2,751.3 L1044.7,751.5 L1046.2,751.7 L1047.7,752.0 L1049.2,752.2 L1050.7,752.4 L1052.2,752.6 L1053.7,752.8 L1055.2,753.0 L1056.7,753.1 L1058.2,753.3 L1059.7,753.5 L1061.2,753.6 L1062.7,753.8 L1064.2,753.9 L1065.7,754.1 L1067.2,754.2 L1068.7,754.4 L1070.2,754.5 L1071.7,754.6 L1073.2,754.8 L1074.7,754.9 L1076.2,755.0 L1077.7,755.2 L1079.2,755.3 L1080.7,755.4 L1082.2,755.6 L1083.7,755.7 L1085.2,755.9 L1086.7,756.0 L1088.2,756.1 L1089.7,756.3 L1091.2,756.4 L1092.7,756.6 L1094.2,756.7 L1095.7,756.9 L1097.2,757.0 L1098.7,757.2 L1100.2,757.3 L1101.7,757.4 L1103.2,757.6 L1104.7,757.7 L1106.2,757.9 L1107.7,758.0 L1109.2,758.1 L1110.7,758.3 L1112.2,758.4 L1113.7,758.5 L1115.2,758.7 L1116.7,758.8 L1118.2,758.9 L1119.7,759.0 L1121.2,759.2 L1122.7,759.3 L1124.2,759.4 L1125.7,759.5 L1127.2,759.7 L1128.7,759.8 L1130.2,759.9 L1131.7,760.0 L1133.2,760.2 L1134.7,760.3 L1136.2,760.4 L1137.7,760.5 L1139.2,760.6 L1140.7,760.8 L1142.2,760.9 L1143.7,761.0 L1145.2,761.1 L1146.7,761.2 L1148.2,761.3 L1149.7,761.4 L1151.2,761.5 L1152.7,761.6 L1154.2,761.7 L1155.7,761.8 L1157.2,761.9 L1158.7,762.0 L1160.2,762.1 L1161.7,762.2 L1163.2,762.3 L1164.7,762.4 L1166.2,762.5 L1167.7,762.6 L1169.2,762.7 L1170.7,762.8 L1172.2,762.9 L1173.7,763.0 L1175.2,763.1 L1176.7,763.3 L1178.2,763.4 L1179.7,763.5 L1181.2,763.6 L1182.7,763.7 L1184.2,763.8 L1185.7,763.9 L1187.2,764.0 L1188.7,764.2 L1190.2,764.3 L1191.7,764.4 L1193.2,764.5 L1194.7,764.7 L1196.2,764.8 L1197.7,764.9 L1199.2,765.1 L1200.7,765.2 L1202.2,765.3 L1203.7,765.5 L1205.2,765.6 L1206.7,765.7 L1208.2,765.9 L1209.7,766.0 L1211.2,766.2 L1212.7,766.3 L1214.2,766.4 L1215.7,766.6 L1217.2,766.7 L1218.7,766.9 L1220.2,767.0 L1221.7,767.2 L1223.2,767.3 L1224.7,767.4 L1226.2,767.6 L1227.7,767.7 L1229.2,767.9 L1230.7,768.0 L1232.2,768.1 L1233.7,768.3 L1235.2,768.4 L1236.7,768.5 L1238.2,768.6 L1239.7,768.8 L1241.2,768.9 L1242.7,769.0 L1244.2,769.1 L1245.7,769.2 L1247.2,769.3 L1248.7,769.3 L1250.2,769.4 L1251.7,769.5 L1253.2,769.6 L1254.7,769.6 L1256.2,769.7 L1257.7,769.8 L1259.2,769.8 L1260.7,769.9 L1262.2,770.0 L1263.7,770.1 L1265.2,770.2 L1266.7,770.4 L1268.2,770.5 L1269.7,770.7 L1271.2,770.9 L1272.7,771.1 L1274.2,771.3 L1275.7,771.5 L1277.2,771.9 L1278.7,773.2 L1280.2,774.0 L1281.7,774.1 L1283.2,774.2 L1284.7,774.3 L1286.2,774.4 L1287.7,774.4 L1289.2,774.5 L1290.7,774.5 L1292.2,774.6 L1293.7,774.6 L1295.2,774.6 L1296.7,774.6 L1298.2,774.7 L1299.7,774.7 L1301.2,774.7 L1302.7,774.8 L1304.2,774.8 L1305.7,774.8 L1307.2,774.9 L1308.7,774.9 L1310.2,775.0 L1311.7,775.1 L1313.2,775.2 L1314.7,775.3 L1316.2,775.4 L1317.7,775.5 L1319.2,775.6 L1320.7,775.8 L1322.2,775.9 L1323.7,776.1 L1325.2,776.2 L1326.7,776.4 L1328.2,776.6 L1329.7,776.8 L1331.2,777.0 L1332.7,777.2 L1334.2,777.4 L1335.7,777.6 L1337.2,777.8 L1338.7,778.1 L1340.2,778.3 L1341.7,778.7 L1343.2,779.1 L1344.7,779.6 L1346.2,780.1 L1347.7,780.5 L1349.2,780.9 L1350.7,781.1 L1352.2,781.3 L1353.7,781.5 L1355.2,781.7 L1356.7,781.9 L1358.2,782.0 L1359.7,782.1 L1361.2,782.3 L1362.7,782.4 L1364.2,782.5 L1365.7,782.6 L1367.2,782.7 L1368.7,782.8 L1370.2,782.9 L1371.7,783.0 L1373.2,783.1 L1374.7,783.1 L1376.2,783.2 L1377.7,783.2 L1379.2,783.3 L1380.7,783.4 L1382.2,783.4 L1383.7,783.5 L1385.2,783.6 L1386.7,783.7 L1388.2,783.8 L1389.7,784.0 L1391.2,784.2 L1392.7,784.4 L1394.2,784.8 L1395.7,785.3 L1397.2,785.8 L1398.7,786.3 L1400.2,786.9 L1401.7,787.6 L1403.2,788.3 L1404.7,789.0 L1406.2,789.9 L1407.7,790.8 L1409.2,791.9 L1410.7,793.1 L1412.2,794.3 L1413.7,795.6 L1415.2,797.0 L1416.7,798.3 L1418.2,799.7 L1419.7,801.4 L1421.2,803.1 L1422.7,804.9 L1424.2,806.7 L1425.7,808.6 L1427.2,810.3 L1428.7,812.0 L1430.2,813.5 L1431.7,815.0 L1433.2,816.5 L1434.7,818.0 L1436.2,819.3 L1437.7,820.5 L1439.2,821.4 L1440.7,821.9 L1442.2,822.3 L1443.7,822.7 L1445.2,822.9 L1446.7,823.2 L1448.2,823.4 L1449.7,823.6 L1451.2,823.8 L1452.7,824.0 L1454.2,824.3 L1455.7,824.7 L1457.2,825.2 L1458.7,825.8 L1460.2,826.5 L1461.7,827.5 L1463.2,828.5 L1464.7,829.7 L1466.2,831.2 L1467.7,833.2 L1469.2,835.6 L1470.7,838.3 L1472.2,841.1 L1473.7,844.1 L1475.2,847.4 L1476.7,851.1 L1478.2,855.1 L1479.7,859.2 L1481.2,863.4 L1482.7,867.8 L1484.2,872.4 L1485.7,877.2 L1487.2,882.1 L1488.7,887.1 L1490.2,892.1 L1491.7,897.3 L1493.2,902.7 L1494.7,908.3 L1496.2,914.0 L1497.7,919.7 L1499.2,925.2 L1500.7,930.4 L1502.2,935.4 L1503.7,940.1 L1505.2,944.6 L1506.7,949.1 L1508.2,953.5 L1509.7,957.1 L1511.2,958.7 L1512.7,955.7 L1514.2,952.2 L1515.7,948.6 L1517.2,945.1 L1518.7,941.6 L1520.2,937.9 L1521.7,934.0 L1523.2,929.6 L1524.7,924.8 L1526.2,919.5 L1527.7,913.7 L1529.2,907.4 L1530.7,900.5 L1532.2,893.0 L1533.7,884.0 L1535.2,873.6 L1536.7,862.8 L1538.2,852.2 L1539.7,841.0 L1541.2,830.8 L1542.7,823.0 L1544.2,816.1 L1545.7,810.3 L1547.2,805.6 L1548.7,802.0 L1550.2,798.9 L1551.7,796.2 L1553.2,793.9 L1554.7,791.9 L1556.2,790.2 L1557.7,788.6 L1559.2,787.2 L1560.7,786.0 L1562.2,785.0 L1563.7,784.2 L1565.2,783.4 L1566.7,782.7 L1568.2,782.1 L1569.7,781.7 L1571.2,781.5 L1572.7,781.5 L1574.2,781.5 L1575.7,781.5 L1577.2,781.5 L1578.7,781.5 L1580.2,781.5 L1581.7,781.5 L1583.2,781.5 L1584.7,781.5 L1586.2,781.5 L1587.7,781.5 L1589.2,781.5 L1590.7,781.5 L1592.2,781.5 L1593.7,781.5 L1595.2,781.5 L1596.7,781.5 L1598.2,781.5 L1599.7,781.5 L1601.2,781.5 L1602.7,781.5 L1604.2,781.5 L1605.7,781.5 L1607.2,781.5 L1608.7,781.5 L1610.2,781.5 L1611.7,781.5 L1613.2,781.5 L1614.7,781.5 L1616.2,781.5 L1617.7,781.4 L1619.2,779.1 L1620.7,778.6 L1622.2,778.6 L1623.7,778.6 L1625.2,778.6 L1626.7,778.6 L1628.2,778.6 L1629.7,778.6 L1631.2,778.6 L1632.7,778.6 L1634.2,778.6 L1635.7,778.6 L1637.2,778.6 L1638.7,778.6 L1640.2,778.6 L1641.7,778.6 L1643.2,778.6 L1644.7,778.6 L1646.2,778.6 L1647.7,779.7 L1649.2,781.5 L1650.7,781.5 L1652.2,781.5 L1653.7,781.5 L1655.2,781.5 L1656.7,781.5 L1658.2,781.5 L1659.7,781.5 L1661.2,781.5 L1662.7,781.5 L1664.2,781.6 L1665.7,781.6 L1667.2,781.6 L1668.7,781.6 L1670.2,781.6 L1671.7,781.6 L1673.2,781.6 L1674.7,781.6 L1676.2,781.6 L1677.7,781.6 L1679.2,781.6 L1680.7,781.6 L1682.2,781.6 L1683.7,781.6 L1685.2,781.6 L1686.7,781.6 L1688.2,781.6 L1689.7,781.6 L1691.2,781.6 L1692.7,781.6 L1694.2,781.6 L1695.7,781.6 L1697.2,781.6 L1698.7,781.6 L1700.2,781.6 L1701.7,781.6 L1703.2,781.6 L1704.7,781.6 L1706.2,781.6 L1707.7,781.6 L1709.2,781.6 L1710.7,781.6 L1712.2,781.6 L1713.7,781.6 L1715.2,781.6 L1716.7,781.6 L1718.2,781.6 L1719.7,781.6 L1721.2,781.6 L1722.7,781.6 L1724.2,781.6 L1725.7,781.6 L1727.2,781.6 L1728.7,781.6 L1730.2,781.6 L1731.7,781.6 L1733.2,781.6 L1734.7,781.6 L1736.2,781.6 L1737.7,781.6 L1739.2,781.6 L1740.7,781.6 L1742.2,781.6 L1743.7,781.6 L1745.2,781.6 L1746.7,781.6 L1748.2,781.6 L1749.7,781.6 L1751.2,781.6 L1752.7,781.6 L1754.2,781.6 L1755.7,781.6 L1757.2,781.6 L1758.7,781.6 L1760.2,781.6 L1761.7,781.6 L1763.2,781.6 L1764.7,781.6 L1766.2,781.6 L1767.7,781.6 L1769.2,781.6 L1770.7,781.6 L1772.2,781.7 L1773.7,781.7 L1775.2,781.7 L1776.7,781.7 L1778.2,781.7 L1779.7,781.7 L1781.2,781.7 L1782.7,781.7 L1784.2,781.7 L1785.7,781.7 L1787.2,781.8 L1788.7,783.1 L1790.2,784.0 L1791.7,784.3 L1793.2,784.5 L1794.7,784.7 L1796.2,784.8 L1797.7,784.8 L1799.2,784.9 L1800.7,785.0 L1802.2,785.1 L1803.7,785.3 L1805.2,785.6 L1806.7,786.0 L1808.2,792.8 L1808.3,793.3" fill="none" stroke="#424242" stroke-width="2.35" stroke-linejoin="round"/>
<path d="M251.2,842.0 L252.7,847.4 L254.2,854.6 L255.7,860.8 L257.2,866.1 L258.7,871.0 L260.2,875.3 L261.7,879.2 L263.2,882.7 L264.7,885.9 L266.2,888.8 L267.7,891.6 L269.2,894.2 L270.7,896.6 L272.2,898.8 L273.7,900.8 L275.2,902.6 L276.7,904.4 L278.2,906.0 L279.7,907.6 L281.2,909.0 L282.7,910.3 L284.2,911.5 L285.7,912.6 L287.2,913.5 L288.7,914.4 L290.2,915.3 L291.7,916.0 L293.2,916.8 L294.7,917.4 L296.2,918.1 L297.7,918.7 L299.2,919.2 L300.7,919.8 L302.2,920.3 L303.7,920.8 L305.2,921.3 L306.7,921.8 L308.2,922.2 L309.7,922.6 L311.2,923.0 L312.7,923.4 L314.2,923.7 L315.7,924.0 L317.2,924.3 L318.7,924.6 L320.2,924.8 L321.7,925.0 L323.2,925.2 L324.7,925.5 L326.2,925.7 L327.7,925.9 L329.2,926.1 L330.7,926.3 L332.2,926.6 L333.7,926.9 L335.2,927.2 L336.7,927.6 L338.2,928.0 L339.7,928.4 L341.2,928.9 L342.7,929.3 L344.2,929.8 L345.7,930.3 L347.2,930.8 L348.7,931.3 L350.2,931.8 L351.7,932.3 L353.2,932.8 L354.7,933.3 L356.2,933.7 L357.7,934.1 L359.2,934.5 L360.7,934.9 L362.2,935.3 L363.7,935.7 L365.2,936.0 L366.7,936.4 L368.2,936.7 L369.7,937.0 L371.2,937.3 L372.7,937.5 L374.2,937.7 L375.7,937.9 L377.2,938.1 L378.7,938.2 L380.2,938.4 L381.7,938.5 L383.2,938.6 L384.7,938.8 L386.2,938.9 L387.7,939.1 L389.2,939.2 L390.7,939.4 L392.2,939.7 L393.7,940.0 L395.2,940.4 L396.7,940.8 L398.2,941.2 L399.7,941.5 L401.2,941.9 L402.7,942.2 L404.2,942.5 L405.7,942.8 L407.2,942.9 L408.7,943.0 L410.2,943.0 L411.7,943.0 L413.2,943.0 L414.7,943.0 L416.2,943.0 L417.7,943.0 L419.2,943.0 L420.7,943.0 L422.2,943.0 L423.7,943.0 L425.2,943.0 L426.7,943.0 L428.2,943.0 L429.7,943.0 L431.2,943.0 L432.7,943.0 L434.2,943.0 L435.7,943.2 L437.2,945.5 L438.7,945.8 L440.2,945.8 L441.7,945.8 L443.2,945.8 L444.7,945.8 L446.2,945.8 L447.7,945.8 L449.2,945.8 L450.7,945.8 L452.2,945.8 L453.7,945.8 L455.2,945.8 L456.7,945.8 L458.2,945.8 L459.7,945.8 L461.2,945.8 L462.7,945.8 L464.2,945.8 L465.7,945.8 L467.2,947.4 L468.7,948.2 L470.2,948.2 L471.7,948.2 L473.2,948.2 L474.7,948.2 L476.2,948.2 L477.7,948.2 L479.2,948.2 L480.7,948.2 L482.2,948.2 L483.7,948.2 L485.2,948.2 L486.7,948.2 L488.2,948.2 L489.7,948.2 L491.2,949.0 L492.7,951.1 L494.2,951.1 L495.7,951.1 L497.2,951.1 L498.7,951.2 L500.2,951.5 L501.7,951.8 L503.2,952.2 L504.7,952.7 L506.2,953.1 L507.7,953.6 L509.2,954.0 L510.7,954.5 L512.2,955.1 L513.7,955.6 L515.2,956.2 L516.7,956.8 L518.2,957.4 L519.7,957.9 L521.2,958.4 L522.7,958.9 L524.2,959.3 L525.7,959.8 L527.2,960.2 L528.7,960.6 L530.2,961.0 L531.7,961.4 L533.2,961.9 L534.7,962.4 L536.2,962.9 L537.7,963.5 L539.2,964.3 L540.7,965.2 L542.2,966.0 L543.7,966.6 L545.2,967.0 L546.7,967.1 L548.2,967.1 L549.7,967.1 L551.2,967.1 L552.7,967.1 L554.2,967.1 L555.7,967.1 L557.2,967.1 L558.7,967.1 L560.2,967.1 L561.7,967.1 L563.2,967.1 L564.7,967.1 L566.2,967.1 L567.7,967.1 L569.2,967.1 L570.7,967.1 L572.2,967.1 L573.7,967.1 L575.2,967.1 L576.7,967.1 L578.2,967.1 L579.7,967.1 L581.2,967.1 L582.7,967.1 L584.2,967.1 L585.7,967.1 L587.2,967.1 L588.7,967.1 L590.2,967.1 L591.7,967.1 L593.2,967.1 L594.7,967.1 L596.2,967.1 L597.7,967.1 L599.2,968.6 L600.7,970.1 L602.2,970.1 L603.7,970.1 L605.2,970.1 L606.7,970.1 L608.2,970.1 L609.7,970.1 L611.2,970.1 L612.7,970.1 L614.2,970.1 L615.7,970.1 L617.2,970.1 L618.7,970.1 L620.2,970.1 L621.7,970.1 L623.2,970.1 L624.7,970.1 L626.2,970.1 L627.7,970.1 L629.2,970.1 L630.7,970.1 L632.2,970.1 L633.7,970.1 L635.2,970.1 L636.7,970.1 L638.2,970.1 L639.7,970.1 L641.2,970.1 L642.7,970.1 L644.2,970.1 L645.7,970.1 L647.2,970.1 L648.7,970.1 L650.2,970.1 L651.7,970.9 L653.2,971.7 L654.7,971.7 L656.2,971.8 L657.7,971.8 L659.2,971.9 L660.7,971.9 L662.2,971.9 L663.7,971.9 L665.2,971.9 L666.7,972.0 L668.2,972.0 L669.7,972.0 L671.2,972.0 L672.7,972.0 L674.2,972.0 L675.7,972.0 L677.2,972.0 L678.7,972.0 L680.2,972.0 L681.7,972.0 L683.2,972.0 L684.7,972.0 L686.2,972.0 L687.7,972.0 L689.2,972.0 L690.7,972.1 L692.2,972.1 L693.7,972.1 L695.2,972.1 L696.7,972.2 L698.2,972.2 L699.7,972.2 L701.2,972.3 L702.7,972.9 L704.2,974.6 L705.7,975.0 L707.2,975.0 L708.7,975.0 L710.2,975.0 L711.7,975.0 L713.2,975.0 L714.7,975.0 L716.2,975.0 L717.7,975.0 L719.2,975.0 L720.7,975.0 L722.2,975.0 L723.7,975.0 L725.2,975.0 L726.7,975.0 L728.2,975.0 L729.7,975.0 L731.2,975.0 L732.7,975.0 L734.2,975.0 L735.7,975.0 L737.2,975.0 L738.7,975.0 L740.2,975.0 L741.7,975.0 L743.2,975.0 L744.7,975.0 L746.2,975.0 L747.7,975.0 L749.2,975.0 L750.7,975.0 L752.2,975.0 L753.7,975.0 L755.2,975.0 L756.7,975.0 L758.2,975.0 L759.7,975.0 L761.2,975.0 L762.7,975.0 L764.2,975.0 L765.7,975.0 L767.2,975.0 L768.7,975.0 L770.2,975.0 L771.7,975.0 L773.2,975.0 L774.7,975.0 L776.2,975.0 L777.7,975.0 L779.2,975.0 L780.7,975.0 L782.2,975.0 L783.7,975.0 L785.2,975.0 L786.7,975.0 L788.2,975.0 L789.7,975.0 L791.2,975.0 L792.7,975.0 L794.2,975.4 L795.7,976.8 L797.2,977.3 L798.7,977.3 L800.2,977.3 L801.7,977.3 L803.2,977.3 L804.7,977.3 L806.2,977.3 L807.7,977.3 L809.2,977.3 L810.7,977.3 L812.2,977.3 L813.7,977.3 L815.2,977.3 L816.7,977.3 L818.2,977.3 L819.7,977.3 L821.2,977.3 L822.7,977.3 L824.2,977.3 L825.7,977.3 L827.2,977.3 L828.7,977.3 L830.2,977.3 L831.7,977.3 L833.2,977.3 L834.7,976.5 L836.2,975.2 L837.7,974.9 L839.2,974.8 L840.7,974.7 L842.2,974.7 L843.7,974.6 L845.2,974.6 L846.7,974.6 L848.2,974.5 L849.7,974.4 L851.2,974.3 L852.7,974.1 L854.2,973.6 L855.7,972.8 L857.2,971.7 L858.7,970.6 L860.2,969.3 L861.7,968.0 L863.2,966.8 L864.7,965.6 L866.2,964.4 L867.7,963.1 L869.2,961.7 L870.7,960.3 L872.2,958.7 L873.7,957.1 L875.2,955.3 L876.7,953.3 L878.2,951.1 L879.7,948.5 L881.2,945.6 L882.7,942.5 L884.2,939.2 L885.7,935.7 L887.2,932.1 L888.7,928.2 L890.2,924.0 L891.7,919.6 L893.2,914.9 L894.7,910.1 L896.2,905.0 L897.7,899.7 L899.2,893.8 L900.7,887.6 L902.2,881.2 L903.7,875.0 L905.2,869.3 L906.7,863.6 L908.2,857.9 L909.7,852.7 L911.2,848.0 L912.7,844.1 L914.2,840.4 L915.7,837.1 L917.2,834.5 L918.7,833.0 L920.2,831.8 L921.7,830.9 L923.2,830.1 L924.7,829.5 L926.2,829.2 L927.7,829.3 L929.2,829.9 L930.7,830.8 L932.2,832.1 L933.7,833.6 L935.2,835.3 L936.7,837.3 L938.2,840.4 L939.7,844.8 L941.2,849.7 L942.7,854.8 L944.2,859.6 L945.7,864.6 L947.2,869.9 L948.7,875.3 L950.2,880.6 L951.7,885.7 L953.2,890.7 L954.7,895.6 L956.2,900.5 L957.7,905.2 L959.2,909.7 L960.7,913.8 L962.2,917.8 L963.7,921.6 L965.2,925.2 L966.7,928.5 L968.2,931.7 L969.7,934.7 L971.2,937.6 L972.7,940.4 L974.2,943.1 L975.7,945.6 L977.2,947.9 L978.7,949.9 L980.2,951.6 L981.7,953.0 L983.2,954.4 L984.7,955.8 L986.2,957.0 L987.7,958.2 L989.2,959.2 L990.7,960.2 L992.2,961.1 L993.7,961.9 L995.2,962.5 L996.7,963.1 L998.2,963.5 L999.7,963.8 L1001.2,964.2 L1002.7,964.5 L1004.2,964.7 L1005.7,965.0 L1007.2,965.2 L1008.7,965.4 L1010.2,965.6 L1011.7,965.8 L1013.2,966.0 L1014.7,966.2 L1016.2,966.4 L1017.7,966.5 L1019.2,966.7 L1020.7,966.9 L1022.2,967.1 L1023.7,967.2 L1025.2,967.4 L1026.7,967.5 L1028.2,967.7 L1029.7,967.8 L1031.2,968.0 L1032.7,968.1 L1034.2,968.2 L1035.7,968.4 L1037.2,968.5 L1038.7,968.6 L1040.2,968.8 L1041.7,968.9 L1043.2,969.0 L1044.7,969.2 L1046.2,969.3 L1047.7,969.5 L1049.2,969.6 L1050.7,969.7 L1052.2,969.9 L1053.7,970.0 L1055.2,970.2 L1056.7,970.3 L1058.2,970.5 L1059.7,970.6 L1061.2,970.8 L1062.7,971.0 L1064.2,971.1 L1065.7,971.3 L1067.2,971.4 L1068.7,971.6 L1070.2,971.7 L1071.7,971.9 L1073.2,972.1 L1074.7,972.2 L1076.2,972.4 L1077.7,972.5 L1079.2,972.7 L1080.7,972.8 L1082.2,973.0 L1083.7,973.2 L1085.2,973.3 L1086.7,973.5 L1088.2,973.6 L1089.7,973.8 L1091.2,973.9 L1092.7,974.1 L1094.2,974.2 L1095.7,974.4 L1097.2,974.6 L1098.7,974.7 L1100.2,974.9 L1101.7,975.0 L1103.2,975.1 L1104.7,975.3 L1106.2,975.4 L1107.7,975.6 L1109.2,975.7 L1110.7,975.9 L1112.2,976.0 L1113.7,976.1 L1115.2,976.3 L1116.7,976.4 L1118.2,976.5 L1119.7,976.7 L1121.2,976.8 L1122.7,976.9 L1124.2,977.1 L1125.7,977.2 L1127.2,977.3 L1128.7,977.4 L1130.2,977.5 L1131.7,977.7 L1133.2,977.8 L1134.7,977.9 L1136.2,978.0 L1137.7,978.1 L1139.2,978.2 L1140.7,978.4 L1142.2,978.5 L1143.7,978.6 L1145.2,978.7 L1146.7,978.8 L1148.2,978.9 L1149.7,979.0 L1151.2,979.1 L1152.7,979.2 L1154.2,979.4 L1155.7,979.5 L1157.2,979.6 L1158.7,979.7 L1160.2,979.8 L1161.7,979.9 L1163.2,980.0 L1164.7,980.1 L1166.2,980.2 L1167.7,980.3 L1169.2,980.4 L1170.7,980.5 L1172.2,980.6 L1173.7,980.7 L1175.2,980.9 L1176.7,981.0 L1178.2,981.1 L1179.7,981.2 L1181.2,981.3 L1182.7,981.4 L1184.2,981.5 L1185.7,981.6 L1187.2,981.7 L1188.7,981.9 L1190.2,982.0 L1191.7,982.1 L1193.2,982.2 L1194.7,982.3 L1196.2,982.4 L1197.7,982.6 L1199.2,982.7 L1200.7,982.8 L1202.2,982.9 L1203.7,983.1 L1205.2,983.2 L1206.7,983.3 L1208.2,983.4 L1209.7,983.6 L1211.2,983.7 L1212.7,983.8 L1214.2,983.9 L1215.7,984.0 L1217.2,984.2 L1218.7,984.3 L1220.2,984.4 L1221.7,984.5 L1223.2,984.6 L1224.7,984.7 L1226.2,984.8 L1227.7,984.9 L1229.2,985.0 L1230.7,985.1 L1232.2,985.2 L1233.7,985.3 L1235.2,985.4 L1236.7,985.5 L1238.2,985.6 L1239.7,985.7 L1241.2,985.8 L1242.7,985.8 L1244.2,985.9 L1245.7,985.9 L1247.2,986.0 L1248.7,986.0 L1250.2,986.0 L1251.7,986.1 L1253.2,986.1 L1254.7,986.1 L1256.2,986.2 L1257.7,986.3 L1259.2,986.4 L1260.7,986.5 L1262.2,986.6 L1263.7,986.8 L1265.2,987.9 L1266.7,988.7 L1268.2,988.8 L1269.7,988.8 L1271.2,988.9 L1272.7,988.9 L1274.2,988.9 L1275.7,988.9 L1277.2,989.0 L1278.7,989.0 L1280.2,989.0 L1281.7,989.0 L1283.2,989.0 L1284.7,989.0 L1286.2,989.0 L1287.7,989.0 L1289.2,989.0 L1290.7,989.0 L1292.2,989.1 L1293.7,989.1 L1295.2,989.1 L1296.7,989.2 L1298.2,989.2 L1299.7,989.3 L1301.2,990.0 L1302.7,991.5 L1304.2,991.8 L1305.7,991.9 L1307.2,992.0 L1308.7,992.0 L1310.2,992.1 L1311.7,992.1 L1313.2,992.2 L1314.7,992.2 L1316.2,992.2 L1317.7,992.3 L1319.2,992.3 L1320.7,992.3 L1322.2,992.3 L1323.7,992.3 L1325.2,992.4 L1326.7,992.4 L1328.2,992.4 L1329.7,992.5 L1331.2,992.6 L1332.7,992.7 L1334.2,992.8 L1335.7,993.2 L1337.2,993.8 L1338.7,994.5 L1340.2,995.1 L1341.7,995.6 L1343.2,996.0 L1344.7,996.0 L1346.2,996.0 L1347.7,996.0 L1349.2,996.0 L1350.7,996.0 L1352.2,996.0 L1353.7,996.0 L1355.2,996.0 L1356.7,996.0 L1358.2,996.0 L1359.7,996.0 L1361.2,996.0 L1362.7,996.0 L1364.2,996.0 L1365.7,996.0 L1367.2,996.0 L1368.7,996.0 L1370.2,996.0 L1371.7,996.0 L1373.2,996.0 L1374.7,996.0 L1376.2,996.0 L1377.7,996.0 L1379.2,996.0 L1380.7,996.0 L1382.2,996.0 L1383.7,996.0 L1385.2,996.0 L1386.7,996.0 L1388.2,996.0 L1389.7,996.0 L1391.2,996.0 L1392.7,995.7 L1394.2,994.0 L1395.7,993.6 L1397.2,993.6 L1398.7,993.6 L1400.2,993.6 L1401.7,993.6 L1403.2,993.7 L1404.7,994.2 L1406.2,995.0 L1407.7,996.1 L1409.2,997.3 L1410.7,998.7 L1412.2,1000.0 L1413.7,1001.3 L1415.2,1002.3 L1416.7,1003.4 L1418.2,1004.5 L1419.7,1005.6 L1421.2,1006.8 L1422.7,1007.9 L1424.2,1008.9 L1425.7,1010.0 L1427.2,1011.0 L1428.7,1011.9 L1430.2,1012.8 L1431.7,1013.6 L1433.2,1014.3 L1434.7,1014.9 L1436.2,1015.6 L1437.7,1016.4 L1439.2,1017.2 L1440.7,1018.2 L1442.2,1019.3 L1443.7,1020.4 L1445.2,1021.7 L1446.7,1023.0 L1448.2,1024.4 L1449.7,1025.9 L1451.2,1027.5 L1452.7,1029.2 L1454.2,1031.0 L1455.7,1033.0 L1457.2,1035.4 L1458.7,1038.1 L1460.2,1040.9 L1461.7,1044.0 L1463.2,1047.5 L1464.7,1051.3 L1466.2,1055.2 L1467.7,1059.3 L1469.2,1063.4 L1470.7,1067.6 L1472.2,1072.0 L1473.7,1076.6 L1475.2,1081.5 L1476.7,1086.7 L1478.2,1092.2 L1479.7,1097.8 L1481.2,1103.6 L1482.7,1109.6 L1484.2,1115.8 L1485.7,1121.9 L1487.2,1127.8 L1488.7,1133.1 L1490.2,1138.3 L1491.7,1143.2 L1493.2,1148.0 L1494.7,1152.8 L1496.2,1157.7 L1497.7,1162.3 L1499.2,1166.4 L1500.7,1169.7 L1502.2,1172.7 L1503.7,1174.9 L1505.2,1176.2 L1506.7,1177.1 L1508.2,1177.2 L1509.7,1175.4 L1511.2,1172.4 L1512.7,1169.1 L1514.2,1164.7 L1515.7,1159.2 L1517.2,1152.9 L1518.7,1146.3 L1520.2,1138.9 L1521.7,1130.6 L1523.2,1121.7 L1524.7,1112.5 L1526.2,1103.1 L1527.7,1093.2 L1529.2,1082.8 L1530.7,1071.2 L1532.2,1059.8 L1533.7,1050.3 L1535.2,1042.2 L1536.7,1035.1 L1538.2,1029.0 L1539.7,1023.4 L1541.2,1019.0 L1542.7,1015.7 L1544.2,1012.9 L1545.7,1010.6 L1547.2,1008.5 L1548.7,1006.6 L1550.2,1004.8 L1551.7,1003.2 L1553.2,1001.8 L1554.7,1000.6 L1556.2,999.6 L1557.7,998.8 L1559.2,998.1 L1560.7,997.4 L1562.2,996.8 L1563.7,996.3 L1565.2,996.1 L1566.7,996.0 L1568.2,996.0 L1569.7,996.0 L1571.2,996.0 L1572.7,996.0 L1574.2,996.0 L1575.7,996.0 L1577.2,996.0 L1578.7,996.0 L1580.2,996.0 L1581.7,996.0 L1583.2,996.0 L1584.7,996.0 L1586.2,996.0 L1587.7,996.0 L1589.2,996.0 L1590.7,996.0 L1592.2,996.0 L1593.7,996.0 L1595.2,996.0 L1596.7,996.0 L1598.2,996.0 L1599.7,996.0 L1601.2,996.0 L1602.7,996.0 L1604.2,996.0 L1605.7,996.0 L1607.2,996.0 L1608.7,996.0 L1610.2,996.0 L1611.7,996.0 L1613.2,996.0 L1614.7,996.0 L1616.2,996.0 L1617.7,996.0 L1619.2,996.0 L1620.7,996.0 L1622.2,996.0 L1623.7,996.0 L1625.2,996.0 L1626.7,996.0 L1628.2,996.0 L1629.7,996.0 L1631.2,996.0 L1632.7,996.0 L1634.2,996.0 L1635.7,996.0 L1637.2,996.0 L1638.7,996.0 L1640.2,996.0 L1641.7,996.0 L1643.2,996.0 L1644.7,996.0 L1646.2,996.0 L1647.7,996.0 L1649.2,996.0 L1650.7,996.0 L1652.2,996.0 L1653.7,996.0 L1655.2,996.0 L1656.7,996.0 L1658.2,996.0 L1659.7,996.0 L1661.2,996.0 L1662.7,996.0 L1664.2,996.0 L1665.7,996.0 L1667.2,996.0 L1668.7,996.0 L1670.2,996.0 L1671.7,996.0 L1673.2,996.0 L1674.7,996.0 L1676.2,996.0 L1677.7,996.0 L1679.2,996.0 L1680.7,996.0 L1682.2,996.0 L1683.7,996.0 L1685.2,996.0 L1686.7,996.0 L1688.2,996.0 L1689.7,996.0 L1691.2,996.0 L1692.7,996.0 L1694.2,996.0 L1695.7,996.0 L1697.2,996.0 L1698.7,996.0 L1700.2,996.0 L1701.7,996.0 L1703.2,996.0 L1704.7,996.0 L1706.2,996.0 L1707.7,996.0 L1709.2,996.0 L1710.7,996.0 L1712.2,996.0 L1713.7,996.0 L1715.2,996.0 L1716.7,996.0 L1718.2,996.0 L1719.7,996.0 L1721.2,996.0 L1722.7,996.0 L1724.2,996.0 L1725.7,996.0 L1727.2,996.0 L1728.7,996.0 L1730.2,996.0 L1731.7,997.6 L1733.2,999.0 L1734.7,999.1 L1736.2,999.1 L1737.7,999.1 L1739.2,999.2 L1740.7,999.2 L1742.2,999.3 L1743.7,999.3 L1745.2,999.3 L1746.7,999.4 L1748.2,999.4 L1749.7,999.4 L1751.2,999.4 L1752.7,999.4 L1754.2,999.4 L1755.7,999.5 L1757.2,999.5 L1758.7,999.5 L1760.2,999.5 L1761.7,999.5 L1763.2,999.5 L1764.7,999.5 L1766.2,999.5 L1767.7,999.5 L1769.2,999.5 L1770.7,999.5 L1772.2,999.5 L1773.7,999.5 L1775.2,999.5 L1776.7,999.5 L1778.2,999.5 L1779.7,999.5 L1781.2,999.5 L1782.7,999.5 L1784.2,999.5 L1785.7,999.6 L1787.2,999.6 L1788.7,999.6 L1790.2,999.6 L1791.7,999.6 L1793.2,999.6 L1794.7,999.7 L1796.2,999.7 L1797.7,999.7 L1799.2,999.8 L1800.7,999.8 L1802.2,999.8 L1803.7,999.9 L1805.2,999.9 L1806.7,1000.0 L1808.2,1000.8 L1809.3,1001.7" fill="none" stroke="#111" stroke-width="2.7" stroke-linejoin="round"/>
<g fill="none" stroke="#424242" stroke-width="2.35">
<path d="M250.2,123.7 V149 L246.9,154.6"/>
<path d="M250.2,612 V619.4 M250.2,633.2 V643.8 M246.9,651.2 V645.5 L250.2,643"/>
</g>
<g fill="none" stroke="#111" stroke-width="2.6">
<path d="M250.2,375.3 V399 M246.9,409.5 V400.6 L250.2,398"/>
<path d="M250.2,812.8 V848.7"/>
</g>
<g fill="#424242"><rect x="251.2" y="171.6" width="2.8" height="2.8"/><rect x="257.3" y="381.2" width="2" height="2" opacity=".6"/><rect x="248.5" y="713.4" width="2.8" height="2.8"/></g>
<g fill="none" stroke="#111" stroke-width="2.9">
<path d="M493.9,246.9 V278.2"/>
<path d="M512.8,249.8 V281.2"/>
<path d="M539.5,265.2 V294.8"/>
<path d="M544.8,268.2 V300.1"/>
<path d="M553.1,270.5 V303.1"/>
<path d="M493.9,262.8 L512.8,264.3 L538.9,279.4 L553.1,286.5 M522.3,280 H539"/>
<path d="M493.9,490.4 V520"/>
<path d="M507.5,493.4 V524.7"/>
<path d="M518.2,501.7 V533"/>
<path d="M531.4,509.3 V539.5"/>
<path d="M547.5,509.9 V542.5"/>
<path d="M493.9,505.4 L506.9,508.8 L518.2,516.4 L531.2,524.1 M504,516.4 H518.2 M519.9,517 H531.2"/>
<path d="M499.2,721.7 V753.7"/>
<path d="M512.8,724.7 V756"/>
<path d="M528.8,732.4 V764.3"/>
<path d="M539.5,737.7 V767.3"/>
<path d="M553.1,737.7 V769"/>
<path d="M499.2,738.3 L512.8,739.5 L517.6,744.5 L529.4,746.8 L546,747.5 M539.5,749 L553.1,754.3"/>
<path d="M496.6,936.3 V965.9"/>
<path d="M507.5,936.3 V968.3"/>
<path d="M520.8,941.7 V973.6"/>
<path d="M536.9,949.9 V981.9"/>
<path d="M558.6,952.9 V981.9"/>
<path d="M496.9,951.1 L507.5,953.5 L520.5,958.2 L536.5,963 L546,967.1 M505,958 H520.5"/>
</g>
<g fill="none" stroke="#111" stroke-width="2.3">
<path d="M1054.3,147.7 V178.3"/>
<path d="M979.3,316.7 V343.3"/>
<path d="M952.7,598.3 V628.3"/>
<path d="M928.3,816 V846.7"/>
<path d="M1473.3,478.3 V508.3"/>
<path d="M1524,470 V498.3"/>
<path d="M1515.7,738.3 V766.7"/>
<path d="M1510.7,943.3 V973.5"/>
<path d="M1507.7,1161.7 V1190.8"/>
</g>
<g font-family="'Liberation Sans', sans-serif" font-size="29.8" fill="#222" stroke="#222" stroke-width="0.35">
<text transform="translate(485.5,225) scale(1,1.035)">61.40°C(I)</text>
<text transform="translate(487.8,463.4) scale(1,1.035)">59.21°C(I)</text>
<text transform="translate(479.6,675.5) scale(1,1.035)">60.42°C(I)</text>
<text transform="translate(481,900.8) scale(1,1.035)">59.36°C(I)</text>
<text transform="translate(1015.3,112.5) scale(1,1.035)" font-size="29">117.09°C</text>
<text transform="translate(1005.2,375) scale(1,1.035)" font-size="29">109.10°C</text>
<text transform="translate(895.8,560) scale(1,1.035)" font-size="29">106.22°C</text>
<text transform="translate(954.3,874.8) scale(1,1.035)" font-size="29">103.51°C</text>
<text transform="translate(1341,499.7) scale(1,1.035)" font-size="29">162.33°C</text>
<text transform="translate(1538.5,502) scale(1,1.035)" font-size="29">167.92°C</text>
<text transform="translate(1540,761.7) scale(1,1.035)" font-size="29">167.12°C</text>
<text transform="translate(1533.5,949.3) scale(1,1.035)" font-size="29">166.48°C</text>
<text transform="translate(1538,1183) scale(1,1.035)" font-size="29">166.00°C</text>
</g>
<g font-family="'Liberation Serif', serif" font-size="54.2" fill="#0a0a0a" stroke="#0a0a0a" stroke-width="1.5" stroke-linejoin="round">
<text y="301"><tspan x="1738.95" textLength="21.75" lengthAdjust="spacingAndGlyphs">0</tspan><tspan x="1764.09" textLength="24.64" lengthAdjust="spacingAndGlyphs" stroke-width="1.7">%</tspan></text>
<text y="531"><tspan x="1725.19" textLength="24.00" lengthAdjust="spacingAndGlyphs">2</tspan><tspan x="1751.67" textLength="20.09" lengthAdjust="spacingAndGlyphs">0</tspan><tspan x="1775.28" textLength="24.97" lengthAdjust="spacingAndGlyphs" stroke-width="1.7">%</tspan></text>
<text y="759"><tspan x="1722.71" textLength="22.82" lengthAdjust="spacingAndGlyphs">3</tspan><tspan x="1749.57" textLength="20.09" lengthAdjust="spacingAndGlyphs">0</tspan><tspan x="1772.78" textLength="25.08" lengthAdjust="spacingAndGlyphs" stroke-width="1.7">%</tspan></text>
<text y="979.5"><tspan x="1725.00" textLength="22.57" lengthAdjust="spacingAndGlyphs">4</tspan><tspan x="1751.67" textLength="20.09" lengthAdjust="spacingAndGlyphs">0</tspan><tspan x="1775.28" textLength="24.97" lengthAdjust="spacingAndGlyphs" stroke-width="1.7">%</tspan></text>
</g>
</svg>
</body></html>
